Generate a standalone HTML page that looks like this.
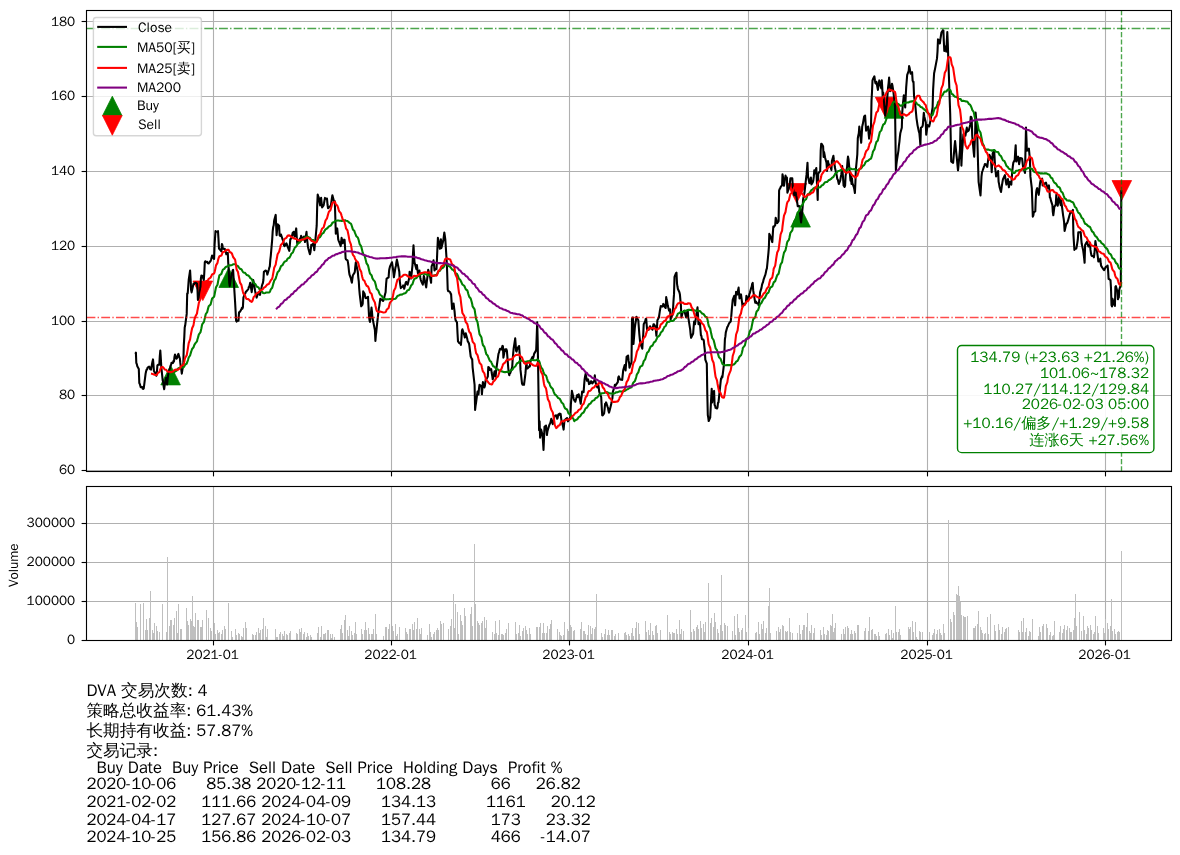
<!DOCTYPE html><html><head><meta charset="utf-8"><title>DVA</title><style>html,body{margin:0;padding:0;background:#fff}svg{display:block}text{font-family:"WenQuanYi Zen Hei","Liberation Sans",sans-serif;fill:#000}</style></head><body>
<svg width="1180" height="855" viewBox="0 0 1180 855">
<rect width="1180" height="855" fill="#fff"/>
<g stroke="#b0b0b0" stroke-width="1.11" fill="none">
<line x1="213.5" y1="10.5" x2="213.5" y2="471.5"/>
<line x1="213.5" y1="486.5" x2="213.5" y2="640.5"/>
<line x1="391.5" y1="10.5" x2="391.5" y2="471.5"/>
<line x1="391.5" y1="486.5" x2="391.5" y2="640.5"/>
<line x1="569.5" y1="10.5" x2="569.5" y2="471.5"/>
<line x1="569.5" y1="486.5" x2="569.5" y2="640.5"/>
<line x1="748.5" y1="10.5" x2="748.5" y2="471.5"/>
<line x1="748.5" y1="486.5" x2="748.5" y2="640.5"/>
<line x1="927.5" y1="10.5" x2="927.5" y2="471.5"/>
<line x1="927.5" y1="486.5" x2="927.5" y2="640.5"/>
<line x1="1105.5" y1="10.5" x2="1105.5" y2="471.5"/>
<line x1="1105.5" y1="486.5" x2="1105.5" y2="640.5"/>
<line x1="86.5" y1="470.5" x2="1171.5" y2="470.5"/>
<line x1="86.5" y1="395.5" x2="1171.5" y2="395.5"/>
<line x1="86.5" y1="321.5" x2="1171.5" y2="321.5"/>
<line x1="86.5" y1="246.5" x2="1171.5" y2="246.5"/>
<line x1="86.5" y1="171.5" x2="1171.5" y2="171.5"/>
<line x1="86.5" y1="96.5" x2="1171.5" y2="96.5"/>
<line x1="86.5" y1="21.5" x2="1171.5" y2="21.5"/>
<line x1="86.5" y1="640.5" x2="1171.5" y2="640.5"/>
<line x1="86.5" y1="601.5" x2="1171.5" y2="601.5"/>
<line x1="86.5" y1="562.5" x2="1171.5" y2="562.5"/>
<line x1="86.5" y1="523.5" x2="1171.5" y2="523.5"/>
</g>
<g clip-path="url(#ctop)">
<defs><clipPath id="ctop"><rect x="86.5" y="10.5" width="1085.0" height="461.0"/></clipPath></defs>
<polygon points="170.6,365.3 160.8,384.9 180.4,384.9" fill="#008000" stroke="#008000" stroke-width="0.75" stroke-linejoin="miter"/>
<polygon points="228.7,267.9 218.9,287.5 238.5,287.5" fill="#008000" stroke="#008000" stroke-width="0.75" stroke-linejoin="miter"/>
<polygon points="800.6,207.5 790.8,227.1 810.4,227.1" fill="#008000" stroke="#008000" stroke-width="0.75" stroke-linejoin="miter"/>
<polygon points="894.0,98.7 884.2,118.3 903.8,118.3" fill="#008000" stroke="#008000" stroke-width="0.75" stroke-linejoin="miter"/>
<polygon points="202.8,300.6 193.0,281.0 212.6,281.0" fill="#ff0000" stroke="#ff0000" stroke-width="0.75" stroke-linejoin="miter"/>
<polygon points="796.7,203.1 786.9,183.5 806.5,183.5" fill="#ff0000" stroke="#ff0000" stroke-width="0.75" stroke-linejoin="miter"/>
<polygon points="885.2,116.9 875.4,97.3 895.0,97.3" fill="#ff0000" stroke="#ff0000" stroke-width="0.75" stroke-linejoin="miter"/>
<polygon points="1121.8,200.1 1112.0,180.5 1131.6,180.5" fill="#ff0000" stroke="#ff0000" stroke-width="0.75" stroke-linejoin="miter"/>
<g fill="none" stroke-width="2.08" stroke-linejoin="round" stroke-linecap="butt">
<polyline stroke="#000" points="135.4,353.8 135.9,352.6 136.3,362.8 136.8,364.1 137.3,366.2 138.8,368.9 139.3,383.1 139.8,384.0 140.3,385.8 140.7,387.2 142.2,387.0 142.7,388.7 143.2,388.9 143.7,388.5 144.2,384.9 145.6,373.6 146.1,371.2 146.6,369.6 147.1,369.6 147.6,367.6 149.1,366.6 149.5,367.2 150.0,369.1 150.5,369.0 151.0,369.6 152.5,361.4 153.0,359.4 153.5,365.0 153.9,370.9 154.4,371.7 156.4,375.7 156.9,372.0 157.4,365.5 157.9,364.9 159.3,364.8 159.8,356.0 160.3,350.6 160.8,358.0 161.3,366.8 162.7,380.4 163.2,382.2 163.7,386.7 164.2,389.2 164.7,385.1 166.2,377.7 166.7,380.7 167.1,384.5 167.6,379.7 168.1,375.0 169.6,369.1 170.1,368.1 170.6,365.5 171.1,364.9 171.5,362.8 173.0,363.0 173.5,360.9 174.0,361.4 174.5,356.7 175.0,354.6 176.4,358.7 176.9,358.2 177.4,357.3 177.9,355.0 178.4,353.9 179.9,358.7 180.3,362.9 180.8,366.8 181.3,369.5 181.8,373.6 183.3,364.1 183.8,345.1 184.3,336.9 184.7,327.5 185.2,325.3 186.7,313.9 187.2,293.6 187.7,293.5 188.2,286.9 188.7,280.0 190.1,270.5 190.6,279.3 191.1,290.1 191.6,292.4 192.1,290.1 193.5,283.7 194.0,284.2 194.5,283.1 195.5,282.7 197.0,283.7 197.4,287.7 197.9,300.0 198.4,298.8 198.9,298.3 200.4,287.7 200.9,278.4 201.4,275.5 201.8,276.2 202.3,275.9 203.8,280.0 204.3,272.7 204.8,262.3 205.3,261.3 205.8,262.0 207.2,261.7 207.7,263.1 208.2,262.9 208.7,263.4 210.6,261.0 211.1,259.6 211.6,257.6 212.1,255.6 214.1,258.9 214.6,244.7 215.0,238.4 215.5,231.1 216.0,231.5 217.5,231.7 218.0,231.1 218.5,239.4 219.0,248.8 219.4,248.8 221.4,251.5 221.9,244.0 222.4,245.2 222.9,248.8 224.3,249.0 224.8,248.8 225.3,250.8 225.8,251.9 226.3,254.2 227.8,252.8 228.2,262.3 228.7,269.1 229.2,282.7 229.7,286.1 231.2,276.1 231.7,273.2 232.2,272.7 232.6,270.6 233.1,269.8 235.1,302.3 235.6,311.2 236.1,320.7 236.6,321.6 238.0,320.2 238.5,320.7 239.0,312.6 239.5,311.8 240.0,311.8 241.4,309.2 241.9,307.9 242.4,308.6 242.9,307.1 243.4,297.6 244.9,293.6 245.4,293.2 245.8,291.7 246.3,291.5 246.8,290.9 248.3,289.1 248.8,287.0 249.3,286.8 249.8,284.6 250.2,282.7 251.7,292.2 252.2,288.1 252.7,283.0 253.2,280.0 253.7,282.0 255.1,290.9 255.6,293.5 256.1,295.1 256.6,297.6 258.5,292.2 259.0,293.0 259.5,292.9 260.0,294.9 260.5,292.4 262.0,285.4 262.5,284.0 262.9,283.0 263.4,280.0 263.9,271.8 265.4,270.7 265.9,270.5 266.4,271.2 266.9,272.5 267.3,274.6 268.8,269.8 269.3,267.7 269.8,266.4 270.3,259.9 270.8,255.6 272.2,239.3 272.7,231.1 273.2,227.0 273.7,225.3 274.2,220.3 275.7,214.9 276.1,224.7 276.6,235.2 277.1,229.9 277.6,224.3 279.1,225.7 279.6,235.2 280.1,235.9 280.5,235.6 281.0,234.5 282.5,239.3 283.0,240.4 283.5,242.0 284.0,245.4 284.5,246.1 286.4,243.3 286.9,244.5 287.4,246.2 287.9,247.4 289.3,250.8 289.8,245.3 290.3,239.3 290.8,238.6 291.3,238.6 292.8,232.5 293.3,233.3 293.7,231.8 294.2,235.4 294.7,236.6 296.2,228.4 296.7,236.3 297.2,243.3 297.7,243.4 298.1,242.0 299.6,239.3 300.1,238.4 300.6,239.0 301.1,235.9 301.6,236.8 303.5,239.3 304.0,236.6 304.5,238.4 305.0,242.0 306.5,231.8 306.9,237.6 307.4,242.0 307.9,246.2 308.4,248.8 309.9,254.2 310.4,252.5 310.9,248.6 311.3,244.7 311.8,245.6 313.3,243.3 313.8,246.3 314.3,250.1 314.8,245.4 315.2,242.0 316.7,225.7 317.2,205.4 317.7,194.5 318.2,196.3 318.7,197.2 320.1,205.4 320.6,201.5 321.1,197.9 321.6,202.9 322.1,207.4 323.6,205.4 324.0,203.4 324.5,200.5 325.0,197.9 325.5,198.8 327.0,198.6 327.5,204.5 328.0,208.1 328.4,208.1 328.9,207.3 330.4,206.0 330.9,205.4 331.4,202.0 331.9,198.1 332.4,195.2 334.3,202.6 334.8,201.3 335.3,217.0 335.8,233.8 337.2,228.4 337.7,233.7 338.2,239.3 338.7,240.8 339.2,242.0 340.7,246.1 341.2,241.1 341.6,237.9 342.1,239.9 342.6,243.3 344.1,239.7 344.6,240.0 345.1,248.3 345.6,258.3 346.0,259.4 347.5,260.3 348.0,262.6 348.5,266.4 349.0,271.5 349.5,274.6 350.9,278.4 351.4,281.0 351.9,282.7 352.4,278.5 352.9,275.2 354.4,272.9 354.8,271.8 355.3,266.5 355.8,262.3 356.3,264.6 357.8,271.8 358.3,277.6 358.8,281.7 359.2,288.5 359.7,294.1 361.2,306.3 361.7,305.6 362.2,305.1 362.7,303.6 363.2,291.4 364.6,293.8 365.1,296.6 365.6,298.1 366.1,297.9 366.6,298.1 368.0,296.8 368.5,306.3 369.0,315.8 369.5,320.2 370.0,321.9 371.5,307.6 372.0,312.2 372.4,317.1 373.4,322.6 374.9,330.0 375.4,340.9 375.9,334.6 376.3,332.0 376.8,326.6 378.3,313.1 378.8,308.4 379.3,306.1 379.8,302.2 380.3,298.8 381.7,299.8 382.2,299.5 382.7,300.8 383.2,300.9 383.7,299.8 385.1,294.1 385.6,292.2 386.1,284.0 386.6,278.6 388.6,277.3 389.1,270.5 389.5,268.4 390.0,266.4 392.0,262.3 392.5,265.6 393.0,269.1 393.5,273.0 393.9,277.3 395.4,267.8 395.9,266.0 396.4,262.1 396.9,259.6 397.4,262.0 399.3,271.8 399.8,281.3 400.3,285.1 400.8,288.1 402.3,286.7 402.7,286.8 403.2,285.4 403.7,286.2 404.2,288.8 405.7,282.7 406.2,281.9 406.7,283.8 407.1,283.3 407.6,284.7 409.1,278.6 409.6,271.8 410.1,273.7 410.6,276.0 411.1,278.6 412.5,265.1 413.0,253.3 413.5,245.4 414.0,253.9 414.5,262.3 416.4,269.1 416.9,265.1 417.4,269.2 417.9,273.2 419.4,270.5 419.9,274.2 420.3,277.7 420.8,280.0 421.3,281.3 422.8,284.7 423.3,281.6 423.8,275.9 424.3,277.8 424.7,280.0 426.2,287.4 426.7,282.6 427.2,278.6 427.7,275.0 428.2,269.8 429.6,274.6 430.1,276.9 430.6,280.2 431.1,282.7 431.6,266.4 433.1,262.7 433.5,260.3 434.0,264.1 434.5,270.5 435.0,269.6 436.5,269.1 437.0,258.3 437.4,248.8 437.9,237.9 438.4,240.3 439.9,248.8 440.4,244.8 440.9,239.3 441.4,248.1 443.3,240.6 443.8,236.7 444.3,232.5 444.8,235.6 445.3,239.3 446.7,261.0 447.2,273.2 447.7,289.5 448.2,291.3 448.7,291.0 450.2,292.2 450.6,293.7 451.1,294.1 451.6,301.9 452.1,309.0 453.6,303.6 454.1,307.8 454.6,311.7 455.0,316.5 455.5,319.9 457.0,322.6 457.5,333.0 458.0,341.6 458.5,341.8 459.0,342.9 460.4,343.4 460.9,345.0 461.4,339.1 461.9,330.7 462.4,329.3 464.3,335.1 464.8,337.5 465.3,336.5 465.8,333.4 467.3,339.1 467.8,341.6 468.2,341.9 468.7,342.8 469.2,344.3 470.7,356.5 471.2,357.6 471.7,358.7 472.2,359.2 472.6,367.3 474.6,385.0 475.1,409.9 475.6,405.5 476.1,402.4 477.5,391.6 478.0,393.4 478.5,394.3 479.0,388.3 479.5,384.8 481.4,386.1 481.9,394.3 482.4,388.3 482.9,382.1 484.4,387.5 484.9,386.0 485.4,381.8 485.8,379.3 486.3,379.6 487.8,376.6 488.3,367.1 488.8,368.7 489.3,367.6 489.8,369.9 491.2,369.2 491.7,372.8 492.2,375.7 492.7,379.3 493.2,377.9 494.6,371.2 495.1,374.5 495.6,376.6 496.1,371.4 496.6,367.1 498.1,356.3 498.5,353.6 499.0,352.6 499.5,350.3 500.0,348.8 501.5,349.5 502.0,347.6 502.5,345.9 502.9,346.1 503.4,357.6 504.9,349.5 505.4,349.3 505.9,350.9 506.4,349.3 506.9,350.9 508.3,368.5 508.8,373.4 509.3,375.3 509.8,373.2 510.3,373.0 512.2,367.1 512.7,359.0 513.2,353.3 513.7,348.1 515.2,338.4 515.7,344.9 516.1,350.9 516.6,351.6 517.1,349.5 518.6,346.6 519.1,346.1 519.6,353.1 520.1,360.4 520.5,369.9 522.0,383.4 522.5,384.7 523.0,384.0 523.5,383.7 524.0,384.8 525.4,373.9 525.9,367.8 526.4,363.1 526.9,366.2 527.4,368.5 528.9,367.0 529.3,366.2 529.8,366.5 530.3,362.8 530.8,360.4 532.3,357.2 532.8,358.3 533.3,357.6 533.7,355.7 534.2,353.6 535.7,351.1 536.2,349.5 536.7,336.3 537.2,322.4 537.7,341.4 539.1,430.2 539.6,421.4 540.1,437.7 540.6,434.6 541.1,429.6 542.5,435.0 543.0,441.7 543.5,449.9 544.0,438.7 544.5,426.8 546.0,425.5 546.5,430.5 546.9,435.0 547.4,431.6 547.9,429.6 549.4,424.7 549.9,423.8 550.4,422.8 551.3,418.7 552.8,424.1 553.3,422.0 553.8,419.9 554.3,417.3 554.8,415.9 556.2,415.3 556.7,416.1 557.2,418.7 557.7,417.7 558.2,414.6 559.6,413.7 560.1,415.3 560.6,413.9 561.1,417.8 561.6,421.4 563.1,426.8 563.6,429.6 564.0,425.5 564.5,420.1 565.0,419.7 567.0,418.0 567.5,420.2 568.0,421.4 568.4,420.6 570.4,417.3 570.9,403.8 571.4,398.2 571.9,390.9 573.3,397.0 573.8,399.1 574.3,400.5 574.8,400.7 575.3,401.7 577.2,395.0 577.7,396.0 578.2,397.0 578.7,394.3 580.2,401.1 580.7,403.8 581.2,399.0 581.6,396.5 582.1,391.6 583.6,392.2 584.1,385.3 584.6,379.3 585.1,376.2 585.6,373.9 587.0,380.7 587.5,379.9 588.0,379.3 588.5,381.3 589.0,384.1 590.4,383.2 590.9,381.4 591.4,381.4 591.9,382.6 592.4,383.4 594.4,380.7 594.8,375.3 595.3,379.9 595.8,383.4 597.3,387.5 597.8,386.8 598.3,384.8 598.8,387.9 599.2,391.6 600.7,396.0 601.2,397.0 601.7,406.8 602.2,415.3 602.7,415.4 604.1,413.3 604.6,409.1 605.1,403.8 605.6,403.9 606.1,402.4 607.6,406.8 608.0,407.8 608.5,411.0 609.0,412.6 609.5,411.0 611.0,405.1 611.5,402.8 612.0,399.7 612.4,398.2 612.9,391.6 614.4,387.0 614.9,384.8 615.4,385.9 615.9,384.8 617.8,382.1 618.3,377.3 618.8,376.4 619.3,377.9 619.8,379.3 621.2,379.8 621.7,379.8 622.2,379.9 622.7,375.1 623.2,370.4 624.7,365.0 625.1,368.0 625.6,370.4 626.1,363.3 626.6,356.8 628.1,355.5 628.6,360.7 629.1,363.2 629.5,367.7 630.0,365.8 631.5,362.3 632.0,318.8 632.5,317.6 633.0,317.5 633.5,343.9 634.9,327.0 635.4,323.5 635.9,320.8 636.4,316.8 636.9,317.8 638.3,320.2 638.8,327.0 639.3,333.8 639.8,338.9 640.3,343.3 642.3,348.7 642.7,341.9 643.2,335.1 643.7,324.3 645.2,321.3 645.7,318.9 646.2,318.8 646.7,325.2 647.1,329.7 648.6,329.8 649.1,328.3 649.6,327.7 650.1,326.2 650.6,327.0 652.5,329.7 653.0,326.6 653.5,324.3 654.0,324.2 655.5,327.0 655.9,330.6 656.4,335.8 656.9,328.4 657.4,320.2 658.9,317.5 659.9,310.7 660.3,308.4 660.8,306.0 662.3,306.6 662.8,306.1 663.3,303.9 663.8,304.6 664.3,306.6 665.7,308.0 666.2,297.1 666.7,300.1 667.2,301.8 667.7,305.3 669.1,310.7 669.6,309.4 670.1,309.3 670.6,319.5 671.1,317.6 672.6,314.8 673.1,308.2 673.5,300.8 674.0,294.4 674.5,276.8 676.0,273.1 676.5,272.7 677.0,283.6 677.5,286.8 677.9,289.0 679.4,292.2 679.9,294.4 680.4,300.2 680.9,305.3 681.4,317.5 682.8,312.1 683.3,312.1 683.8,311.3 684.3,310.7 684.8,312.6 686.2,317.5 686.7,314.9 687.2,311.9 687.7,310.0 688.2,316.8 690.2,329.7 690.6,334.0 691.1,337.8 691.6,336.7 693.1,333.8 693.6,327.5 694.1,321.6 694.6,322.9 695.0,324.3 696.5,313.4 697.0,310.6 697.5,307.3 698.0,315.0 698.5,324.3 699.9,322.9 700.4,328.8 700.9,335.1 701.4,335.9 701.9,339.2 703.4,339.6 703.8,340.6 704.3,345.8 704.8,350.1 705.3,359.6 706.8,363.6 707.3,393.9 707.8,415.1 708.2,417.2 708.7,421.0 710.2,417.6 710.7,407.5 711.2,397.8 711.7,388.8 712.2,402.4 713.6,391.4 714.1,390.9 714.6,404.9 715.1,405.7 715.6,407.9 717.0,408.5 717.5,407.5 718.0,402.8 718.5,402.4 719.0,397.3 720.5,383.2 721.0,378.5 721.4,378.8 721.9,376.4 722.4,377.2 723.9,365.0 724.4,351.4 724.9,339.2 725.4,336.4 725.8,332.4 727.3,327.0 727.8,326.5 728.3,325.1 729.3,322.9 730.7,321.6 731.2,317.0 731.7,310.7 732.2,305.3 732.7,299.9 734.2,295.8 734.6,299.8 735.1,305.3 735.6,298.6 736.1,291.7 737.6,294.4 738.1,289.9 738.6,287.6 739.0,292.6 739.5,298.5 741.0,294.4 741.5,298.3 742.0,301.9 742.5,306.6 742.9,303.9 744.9,303.7 745.4,303.2 745.9,302.6 746.4,295.8 748.3,299.7 748.8,298.5 749.3,294.3 749.8,293.1 751.3,287.6 751.7,286.6 752.2,283.8 752.7,282.9 753.2,290.4 755.2,302.6 755.7,302.2 756.1,301.6 756.6,303.1 758.1,303.2 758.6,305.3 759.1,301.6 759.6,297.7 760.1,292.4 761.5,287.9 762.0,284.9 762.5,283.3 763.0,282.3 763.5,279.9 764.9,275.8 765.4,274.6 765.9,272.2 766.4,269.7 766.9,268.5 768.4,253.2 768.9,246.8 769.3,233.9 769.8,234.8 770.3,236.0 772.3,242.1 772.8,233.9 773.3,226.5 773.7,227.2 775.2,225.1 775.7,217.7 776.2,219.5 776.7,221.8 777.2,223.1 778.6,221.1 779.1,190.5 779.6,189.2 780.1,188.5 780.6,187.1 782.1,185.1 782.5,174.2 783.0,177.0 783.5,183.1 784.0,185.8 785.5,175.6 786.0,177.4 786.5,177.6 786.9,177.6 787.4,192.6 788.9,187.9 789.4,186.5 789.9,182.6 790.4,178.3 792.3,178.3 792.8,187.1 793.3,188.8 793.8,192.6 794.3,195.3 795.7,192.6 796.2,196.0 796.7,198.0 797.2,202.3 797.7,206.1 799.2,206.0 799.7,207.5 800.1,214.3 800.6,219.0 801.1,222.4 802.6,207.5 803.1,199.3 803.6,197.3 804.0,194.8 804.5,192.6 806.0,179.0 806.5,174.9 807.0,169.1 807.5,162.7 808.0,176.3 809.4,183.1 809.9,182.0 810.4,180.3 810.9,177.6 811.4,184.4 812.8,182.1 813.3,180.4 813.8,176.7 814.3,170.2 814.8,173.6 816.3,168.1 816.8,179.9 817.2,188.5 817.7,200.0 818.2,173.6 820.2,170.9 820.7,150.5 821.2,143.9 821.6,143.9 823.1,146.4 823.6,157.0 824.1,152.1 824.6,154.9 825.1,157.8 826.5,162.7 827.0,170.9 827.5,166.4 828.0,161.1 828.5,163.6 830.0,166.2 830.4,166.0 831.4,170.1 831.9,161.1 833.4,155.8 833.9,159.9 834.4,162.7 834.8,167.0 835.3,169.3 836.8,175.8 837.3,179.1 837.8,179.5 838.8,184.0 840.2,180.7 840.7,177.5 841.2,175.0 841.7,171.2 842.2,166.0 843.6,185.6 844.1,186.1 844.6,186.9 845.1,185.6 845.6,175.8 847.1,166.8 847.6,159.9 848.0,156.6 848.5,159.1 849.0,164.4 850.5,180.7 851.0,176.6 851.5,184.0 852.0,178.3 852.4,183.2 853.9,187.3 854.4,189.8 854.9,193.0 855.4,182.4 855.9,169.3 857.3,154.5 857.8,138.2 858.3,135.5 858.8,133.3 859.3,126.5 860.8,139.5 861.2,142.8 861.7,134.7 862.2,126.5 862.7,124.6 864.2,116.3 864.7,116.0 865.1,115.6 865.6,123.3 866.1,130.6 868.1,126.5 868.6,133.5 869.1,138.7 869.5,136.1 871.0,126.5 871.5,100.7 872.0,92.0 872.5,80.4 873.0,79.0 874.4,76.3 874.9,80.2 875.4,83.1 875.9,83.7 876.4,81.7 877.9,89.9 878.3,87.2 878.8,83.2 879.3,80.4 879.8,82.6 881.3,88.5 881.8,80.4 882.3,88.5 882.7,96.6 883.2,92.6 884.7,110.4 885.2,115.6 885.7,112.1 886.2,107.9 886.7,104.8 888.1,87.1 888.6,83.1 889.1,77.6 889.6,83.8 890.1,91.2 891.5,87.1 892.0,83.7 892.5,85.8 893.0,89.2 893.5,92.6 895.0,106.1 895.5,141.4 895.9,170.6 896.4,164.4 896.9,160.4 898.4,150.8 898.9,145.5 899.4,141.8 899.9,136.7 900.3,133.3 901.8,127.8 902.3,111.6 902.8,104.8 903.3,100.4 903.8,95.3 905.2,107.5 905.7,96.5 906.2,87.1 906.7,80.8 907.2,74.9 908.7,70.9 909.1,66.1 909.6,67.7 910.6,73.6 912.1,72.2 912.6,80.4 913.1,81.8 913.5,81.7 914.0,95.3 915.5,107.5 916.0,113.0 916.5,118.3 917.0,121.6 917.5,125.1 918.9,131.7 919.4,133.3 919.9,138.8 920.4,145.5 920.9,127.8 922.3,126.7 922.8,125.1 923.8,112.9 924.3,116.5 925.8,122.4 926.2,134.6 927.2,127.8 927.7,125.1 929.2,126.5 929.7,124.3 930.2,121.7 931.1,117.0 932.6,107.5 933.1,89.9 933.6,81.3 934.1,73.3 934.6,71.1 936.5,61.1 937.0,58.4 937.5,51.6 938.0,39.4 939.4,40.7 939.9,43.5 940.4,39.1 940.9,36.0 941.4,32.6 942.9,30.2 943.4,30.6 943.8,40.8 944.3,51.0 944.8,46.2 946.3,51.6 946.8,41.6 947.3,32.0 947.8,43.6 948.2,55.7 950.2,114.0 950.7,136.7 951.2,161.5 951.7,161.9 953.1,162.8 953.6,157.3 954.1,151.6 954.6,145.7 955.1,141.1 956.6,156.1 957.0,160.0 957.5,165.4 958.0,170.3 958.5,165.7 960.0,149.3 960.5,127.6 961.0,145.8 961.4,165.6 961.9,154.7 963.4,134.3 963.9,136.6 964.4,135.7 964.9,134.0 965.4,135.7 966.8,127.6 967.3,131.6 967.8,131.1 968.3,131.0 968.8,130.3 970.2,124.9 970.7,116.7 971.2,116.9 971.7,118.1 972.2,135.7 973.7,152.5 974.2,156.7 974.6,145.3 975.1,134.3 975.6,112.6 977.1,130.3 977.6,147.8 978.1,165.6 978.6,181.8 980.5,195.4 981.0,186.3 981.5,176.4 982.0,172.3 982.5,171.0 983.9,166.8 984.4,165.6 984.9,164.0 985.4,164.2 985.9,164.2 987.3,166.9 987.8,162.5 988.3,158.8 988.8,157.3 989.3,154.7 990.8,157.4 991.3,165.0 991.7,172.3 992.2,162.5 992.7,153.3 994.2,150.6 994.7,160.0 995.2,168.3 995.7,172.3 996.1,176.4 998.1,171.0 998.6,181.8 999.1,184.1 999.6,187.3 1001.0,192.0 1001.5,188.7 1002.0,184.9 1002.5,181.8 1003.0,179.1 1004.5,175.9 1004.9,175.1 1005.4,178.3 1005.9,181.9 1006.4,184.6 1007.9,179.1 1008.4,182.9 1008.9,187.3 1009.8,181.8 1011.3,184.6 1011.8,177.2 1012.3,171.0 1012.8,166.3 1013.3,162.8 1014.7,160.1 1015.2,151.4 1015.7,145.2 1016.2,161.5 1018.1,156.7 1018.6,160.9 1019.1,164.2 1019.6,161.6 1020.1,158.1 1021.6,158.3 1022.1,158.8 1022.5,162.0 1023.0,166.3 1023.5,168.3 1025.0,173.0 1025.5,149.3 1026.0,127.6 1026.5,139.9 1026.9,150.6 1028.4,149.6 1028.9,148.6 1029.4,154.2 1029.9,158.8 1030.4,176.4 1031.8,188.1 1032.3,201.5 1032.8,216.6 1033.3,215.6 1033.8,212.6 1035.3,211.2 1035.7,199.6 1036.2,192.2 1036.7,189.3 1037.2,188.1 1038.7,194.9 1039.2,191.1 1039.7,186.1 1040.1,182.7 1040.6,180.5 1042.1,178.6 1042.6,185.4 1043.1,183.7 1043.6,183.2 1044.1,184.1 1046.0,182.7 1046.5,184.5 1047.0,187.2 1047.5,188.1 1048.9,185.4 1049.4,189.8 1049.9,197.6 1050.4,197.9 1050.9,200.4 1052.4,205.1 1052.8,211.9 1053.3,215.3 1053.8,211.3 1054.3,207.1 1055.8,204.4 1056.3,194.9 1056.8,199.6 1057.2,200.6 1057.7,205.8 1059.2,196.3 1059.7,199.4 1060.2,202.6 1060.7,205.1 1061.2,200.4 1062.6,211.3 1063.1,215.3 1063.6,218.4 1064.1,222.1 1064.6,230.9 1066.0,224.9 1066.5,223.4 1067.0,223.3 1067.5,222.2 1068.0,220.7 1069.5,215.3 1070.0,213.7 1070.4,212.6 1070.9,212.2 1071.4,212.6 1072.9,209.9 1073.4,234.3 1073.9,242.2 1074.4,249.9 1074.8,249.1 1076.3,248.5 1076.8,246.1 1077.3,242.8 1077.8,239.7 1078.3,232.2 1079.7,232.3 1080.2,232.5 1080.7,232.2 1081.2,238.7 1081.7,243.8 1083.2,250.6 1083.6,253.7 1084.1,257.7 1084.6,262.8 1085.1,245.1 1086.6,242.3 1087.1,241.7 1087.6,244.2 1088.5,246.5 1090.0,243.8 1090.5,249.9 1091.0,253.3 1091.5,255.5 1092.0,256.0 1093.4,256.1 1093.9,257.3 1094.4,253.5 1094.9,247.8 1095.4,241.1 1096.8,250.4 1097.3,253.3 1097.8,256.6 1098.3,261.4 1098.8,261.4 1100.3,258.7 1100.8,264.1 1101.2,265.9 1102.2,267.5 1103.7,269.8 1104.2,270.2 1104.7,269.0 1105.6,267.2 1107.1,266.1 1107.6,265.6 1108.1,270.5 1108.6,279.0 1109.1,278.9 1110.5,280.3 1111.0,288.2 1111.5,305.2 1112.0,306.5 1112.5,298.7 1114.4,305.2 1114.9,305.9 1115.4,286.9 1115.9,286.2 1117.4,291.5 1117.9,299.3 1118.3,298.1 1118.8,297.4 1119.3,289.5 1120.8,284.9 1121.3,190.2"/>
<polyline stroke="#008000" points="169.6,372.6 170.1,372.9 170.6,373.2 171.1,373.2 171.5,373.2 173.0,373.1 173.5,373.0 174.0,372.5 174.5,372.0 175.0,371.4 176.4,370.8 176.9,370.2 177.4,369.6 177.9,368.9 178.4,368.2 179.9,367.7 180.3,367.5 180.8,367.4 181.3,367.4 181.8,367.5 183.3,367.4 183.8,367.0 184.3,366.4 184.7,365.6 185.2,364.7 186.7,363.6 187.2,362.2 187.7,360.9 188.2,359.3 188.7,357.5 190.1,355.5 190.6,353.6 191.1,351.9 191.6,350.5 192.1,349.0 193.5,347.3 194.0,345.9 194.5,344.6 195.5,343.1 197.0,341.4 197.4,339.5 197.9,337.9 198.4,336.1 198.9,334.3 200.4,332.4 200.9,330.4 201.4,328.3 201.8,326.1 202.3,324.1 203.8,322.2 204.3,320.3 204.8,318.2 205.3,316.1 205.8,314.0 207.2,312.1 207.7,310.1 208.2,308.1 208.7,306.2 210.6,304.4 211.1,302.5 211.6,300.5 212.1,298.5 214.1,296.7 214.6,294.5 215.0,292.3 215.5,289.8 216.0,287.2 217.5,284.7 218.0,282.0 218.5,279.4 219.0,277.2 219.4,275.3 221.4,273.9 221.9,272.3 222.4,270.8 222.9,269.6 224.3,268.9 224.8,268.1 225.3,267.4 225.8,266.9 226.3,266.7 227.8,266.3 228.2,265.8 228.7,265.4 229.2,265.3 229.7,265.4 231.2,265.3 231.7,265.1 232.2,264.9 232.6,264.6 233.1,264.2 235.1,264.2 235.6,264.4 236.1,264.8 236.6,265.4 238.0,266.1 238.5,266.9 239.0,267.6 239.5,268.2 240.0,268.8 241.4,269.3 241.9,270.1 242.4,271.0 242.9,271.8 243.4,272.4 244.9,272.8 245.4,273.3 245.8,273.8 246.3,274.4 246.8,274.9 248.3,275.4 248.8,275.9 249.3,276.4 249.8,277.2 250.2,278.0 251.7,279.1 252.2,280.2 252.7,281.2 253.2,282.2 253.7,283.0 255.1,283.8 255.6,284.6 256.1,285.5 256.6,286.5 258.5,287.4 259.0,288.3 259.5,289.2 260.0,290.1 260.5,290.9 262.0,291.6 262.5,292.2 262.9,292.8 263.4,293.1 263.9,293.2 265.4,292.9 265.9,292.6 266.4,292.5 266.9,292.5 267.3,292.5 268.8,292.5 269.3,292.5 269.8,291.8 270.3,290.7 270.8,289.4 272.2,287.8 272.7,286.0 273.2,284.1 273.7,282.4 274.2,280.5 275.7,278.6 276.1,276.9 276.6,275.5 277.1,273.9 277.6,272.2 279.1,270.8 279.6,269.6 280.1,268.5 280.5,267.4 281.0,266.2 282.5,265.2 283.0,264.2 283.5,263.3 284.0,262.5 284.5,261.7 286.4,260.9 286.9,260.0 287.4,259.1 287.9,258.4 289.3,257.8 289.8,257.1 290.3,256.1 290.8,255.0 291.3,253.8 292.8,252.5 293.3,251.4 293.7,250.1 294.2,249.0 294.7,247.8 296.2,246.5 296.7,245.6 297.2,244.7 297.7,244.0 298.1,243.2 299.6,242.5 300.1,241.9 300.6,241.3 301.1,240.6 301.6,239.8 303.5,239.1 304.0,238.5 304.5,237.9 305.0,237.4 306.5,236.8 306.9,236.5 307.4,236.5 307.9,236.8 308.4,237.3 309.9,237.8 310.4,238.5 310.9,239.2 311.3,239.6 311.8,239.8 313.3,240.0 313.8,240.5 314.3,241.0 314.8,241.2 315.2,241.3 316.7,241.1 317.2,240.5 317.7,239.6 318.2,238.7 318.7,237.8 320.1,237.0 320.6,236.2 321.1,235.2 321.6,234.4 322.1,233.6 323.6,232.8 324.0,231.8 324.5,230.9 325.0,230.1 325.5,229.3 327.0,228.5 327.5,228.0 328.0,227.5 328.4,227.0 328.9,226.4 330.4,225.8 330.9,225.4 331.4,224.7 331.9,223.8 332.4,222.8 334.3,222.0 334.8,221.3 335.3,220.8 335.8,220.7 337.2,220.6 337.7,220.5 338.2,220.5 338.7,220.6 339.2,220.7 340.7,220.7 341.2,220.9 341.6,220.9 342.1,220.9 342.6,220.8 344.1,220.7 344.6,220.4 345.1,220.3 345.6,220.5 346.0,220.8 347.5,221.1 348.0,221.5 348.5,221.9 349.0,222.3 349.5,222.9 350.9,223.6 351.4,224.7 351.9,226.3 352.4,227.9 352.9,229.5 354.4,231.0 354.8,232.4 355.3,233.7 355.8,234.9 356.3,236.2 357.8,237.5 358.3,238.9 358.8,240.5 359.2,242.2 359.7,244.2 361.2,246.3 361.7,248.5 362.2,250.5 362.7,252.4 363.2,254.0 364.6,255.8 365.1,257.6 365.6,259.4 366.1,261.4 366.6,263.4 368.0,265.4 368.5,267.5 369.0,269.7 369.5,271.8 370.0,273.6 371.5,275.2 372.0,276.7 372.4,278.3 373.4,279.9 374.9,281.7 375.4,283.6 375.9,285.4 376.3,287.3 376.8,289.1 378.3,290.5 378.8,291.8 379.3,293.2 379.8,294.2 380.3,295.0 381.7,295.9 382.2,296.6 382.7,297.4 383.2,298.1 383.7,298.7 385.1,299.0 385.6,299.3 386.1,299.4 386.6,299.3 388.6,299.3 389.1,299.2 389.5,299.1 390.0,299.0 392.0,298.9 392.5,299.0 393.0,299.1 393.5,299.1 393.9,299.1 395.4,298.8 395.9,298.3 396.4,297.7 396.9,296.8 397.4,295.9 399.3,295.2 399.8,294.8 400.3,294.7 400.8,294.6 402.3,294.4 402.7,294.1 403.2,293.9 403.7,293.6 404.2,293.5 405.7,293.0 406.2,292.3 406.7,291.6 407.1,290.8 407.6,290.4 409.1,289.7 409.6,288.8 410.1,287.8 410.6,286.7 411.1,285.5 412.5,284.1 413.0,282.5 413.5,280.9 414.0,279.7 414.5,278.8 416.4,278.1 416.9,277.3 417.4,276.7 417.9,276.2 419.4,275.6 419.9,275.1 420.3,274.6 420.8,274.2 421.3,274.0 422.8,273.8 423.3,273.8 423.8,273.7 424.3,273.7 424.7,273.9 426.2,274.3 426.7,274.6 427.2,274.9 427.7,275.1 428.2,275.1 429.6,275.2 430.1,275.2 430.6,275.4 431.1,275.7 431.6,275.8 433.1,275.9 433.5,275.9 434.0,275.7 434.5,275.5 435.0,275.2 436.5,274.8 437.0,274.2 437.4,273.5 437.9,272.5 438.4,271.6 439.9,270.8 440.4,270.0 440.9,269.2 441.4,268.5 443.3,267.6 443.8,266.7 444.3,265.7 444.8,265.0 445.3,264.3 446.7,264.0 447.2,263.9 447.7,264.4 448.2,265.2 448.7,266.1 450.2,266.8 450.6,267.5 451.1,268.0 451.6,268.7 452.1,269.5 453.6,270.1 454.1,270.9 454.6,271.6 455.0,272.4 455.5,273.2 457.0,274.0 457.5,275.0 458.0,276.2 458.5,277.5 459.0,278.8 460.4,280.1 460.9,281.2 461.4,282.3 461.9,283.4 462.4,284.5 464.3,285.8 464.8,287.0 465.3,288.2 465.8,289.3 467.3,290.4 467.8,291.9 468.2,293.5 468.7,295.2 469.2,296.8 470.7,298.5 471.2,300.2 471.7,302.0 472.2,304.0 472.6,306.4 474.6,309.4 475.1,312.8 475.6,315.9 476.1,319.0 477.5,322.1 478.0,325.0 478.5,328.1 479.0,331.1 479.5,334.1 481.4,337.2 481.9,340.3 482.4,342.8 482.9,345.0 484.4,346.9 484.9,348.8 485.4,350.6 485.8,352.4 486.3,354.1 487.8,355.8 488.3,357.1 488.8,358.3 489.3,359.5 489.8,360.8 491.2,361.9 491.7,363.1 492.2,364.2 492.7,365.3 493.2,366.2 494.6,366.8 495.1,367.5 495.6,368.1 496.1,368.7 496.6,369.1 498.1,369.5 498.5,369.9 499.0,370.4 499.5,370.7 500.0,370.9 501.5,371.2 502.0,371.5 502.5,371.6 502.9,371.7 503.4,372.0 504.9,372.1 505.4,372.2 505.9,372.1 506.4,372.0 506.9,371.8 508.3,372.0 508.8,372.1 509.3,371.9 509.8,371.2 510.3,370.5 512.2,369.8 512.7,369.2 513.2,368.4 513.7,367.5 515.2,366.5 515.7,365.7 516.1,365.0 516.6,364.1 517.1,363.3 518.6,362.6 519.1,361.8 519.6,361.1 520.1,360.7 520.5,360.5 522.0,360.6 522.5,360.7 523.0,361.1 523.5,361.4 524.0,361.7 525.4,361.8 525.9,361.8 526.4,361.6 526.9,361.4 527.4,361.2 528.9,361.0 529.3,360.9 529.8,360.7 530.3,360.4 530.8,360.2 532.3,360.0 532.8,360.0 533.3,360.1 533.7,360.2 534.2,360.3 535.7,360.3 536.2,360.3 536.7,360.1 537.2,359.6 537.7,359.5 539.1,361.0 539.6,362.4 540.1,364.2 540.6,365.8 541.1,367.4 542.5,369.1 543.0,370.6 543.5,372.1 544.0,373.4 544.5,374.5 546.0,375.5 546.5,376.8 546.9,378.3 547.4,379.9 547.9,381.5 549.4,383.2 549.9,384.8 550.4,386.2 551.3,387.6 552.8,389.1 553.3,390.6 553.8,392.1 554.3,393.3 554.8,394.4 556.2,395.4 556.7,396.0 557.2,396.7 557.7,397.4 558.2,398.0 559.6,398.6 560.1,399.4 560.6,400.3 561.1,401.4 561.6,402.5 563.1,403.7 563.6,404.9 564.0,406.1 564.5,407.2 565.0,408.3 567.0,409.5 567.5,410.7 568.0,412.0 568.4,413.3 570.4,414.5 570.9,415.5 571.4,416.4 571.9,417.3 573.3,418.5 573.8,420.0 574.3,421.2 574.8,420.6 575.3,420.2 577.2,419.4 577.7,418.6 578.2,417.9 578.7,417.1 580.2,416.3 580.7,415.4 581.2,414.6 581.6,414.0 582.1,413.3 583.6,412.5 584.1,411.6 584.6,410.5 585.1,409.4 585.6,408.4 587.0,407.6 587.5,406.7 588.0,405.9 588.5,405.1 589.0,404.3 590.4,403.6 590.9,402.9 591.4,402.2 591.9,401.5 592.4,400.9 594.4,400.1 594.8,399.2 595.3,398.6 595.8,397.9 597.3,397.4 597.8,396.8 598.3,396.2 598.8,395.5 599.2,394.8 600.7,394.1 601.2,393.6 601.7,393.3 602.2,393.2 602.7,393.2 604.1,393.0 604.6,392.8 605.1,392.4 605.6,392.2 606.1,392.1 607.6,392.3 608.0,392.7 608.5,392.9 609.0,393.2 609.5,393.4 611.0,393.5 611.5,393.5 612.0,393.6 612.4,393.7 612.9,393.6 614.4,393.4 614.9,393.1 615.4,392.7 615.9,392.4 617.8,392.2 618.3,391.9 618.8,391.6 619.3,391.4 619.8,391.4 621.2,391.5 621.7,391.6 622.2,391.6 622.7,391.5 623.2,391.3 624.7,391.0 625.1,390.7 625.6,390.4 626.1,390.0 626.6,389.6 628.1,389.0 628.6,388.6 629.1,388.2 629.5,388.1 630.0,387.8 631.5,387.3 632.0,386.0 632.5,384.6 633.0,383.2 633.5,382.4 634.9,381.1 635.4,379.6 635.9,378.1 636.4,376.3 636.9,374.3 638.3,372.4 638.8,370.7 639.3,369.2 639.8,367.9 640.3,366.7 642.3,365.6 642.7,364.3 643.2,362.9 643.7,361.1 645.2,359.3 645.7,357.5 646.2,355.7 646.7,354.2 647.1,352.8 648.6,351.4 649.1,350.2 649.6,349.0 650.1,347.8 650.6,346.6 652.5,345.5 653.0,344.4 653.5,343.4 654.0,342.3 655.5,341.3 655.9,340.3 656.4,339.5 656.9,338.4 657.4,337.2 658.9,336.1 659.9,334.9 660.3,333.8 660.8,332.5 662.3,331.3 662.8,330.2 663.3,329.1 663.8,328.1 664.3,327.0 665.7,326.0 666.2,324.6 666.7,323.3 667.2,322.1 667.7,321.9 669.1,321.8 669.6,321.7 670.1,321.1 670.6,321.0 671.1,320.9 672.6,320.9 673.1,320.8 673.5,320.5 674.0,320.1 674.5,319.1 676.0,318.1 676.5,316.9 677.0,315.8 677.5,314.6 677.9,313.6 679.4,313.0 679.9,312.5 680.4,312.2 680.9,312.0 681.4,312.0 682.8,312.0 683.3,311.7 683.8,311.4 684.3,311.1 684.8,310.8 686.2,310.8 686.7,310.6 687.2,310.2 687.7,309.9 688.2,309.8 690.2,309.9 690.6,310.0 691.1,310.1 691.6,310.1 693.1,310.1 693.6,310.2 694.1,310.2 694.6,310.4 695.0,310.7 696.5,310.6 697.0,310.6 697.5,310.5 698.0,310.7 698.5,311.0 699.9,311.1 700.4,311.4 700.9,312.1 701.4,312.7 701.9,313.4 703.4,313.9 703.8,314.4 704.3,315.1 704.8,315.8 705.3,316.6 706.8,317.3 707.3,318.9 707.8,321.0 708.2,323.3 708.7,325.8 710.2,328.5 710.7,331.1 711.2,333.6 711.7,335.7 712.2,338.0 713.6,340.0 714.1,341.9 714.6,344.1 715.1,346.2 715.6,348.3 717.0,350.1 717.5,352.0 718.0,353.8 718.5,355.6 719.0,357.3 720.5,358.7 721.0,359.9 721.4,361.2 721.9,362.5 722.4,363.8 723.9,364.8 724.4,365.2 724.9,365.3 725.4,365.3 725.8,365.2 727.3,365.1 727.8,365.1 728.3,365.1 729.3,365.1 730.7,365.1 731.2,365.1 731.7,365.1 732.2,365.1 732.7,364.8 734.2,364.2 734.6,363.8 735.1,363.3 735.6,362.6 736.1,361.7 737.6,360.8 738.1,359.8 738.6,358.7 739.0,357.7 739.5,356.6 741.0,355.3 741.5,354.0 742.0,352.2 742.5,350.0 742.9,347.8 744.9,345.4 745.4,343.1 745.9,341.0 746.4,339.0 748.3,337.2 748.8,335.1 749.3,333.2 749.8,331.2 751.3,328.9 751.7,326.5 752.2,324.0 752.7,321.5 753.2,319.2 755.2,317.2 755.7,315.2 756.1,313.2 756.6,311.6 758.1,310.1 758.6,308.7 759.1,307.2 759.6,305.6 760.1,304.1 761.5,302.9 762.0,301.8 762.5,300.7 763.0,299.7 763.5,298.8 764.9,297.8 765.4,296.7 765.9,295.7 766.4,294.7 766.9,293.7 768.4,292.6 768.9,291.4 769.3,290.1 769.8,288.9 770.3,287.6 772.3,286.3 772.8,285.0 773.3,283.7 773.7,282.4 775.2,281.1 775.7,279.7 776.2,278.2 776.7,276.7 777.2,275.3 778.6,273.7 779.1,271.5 779.6,269.1 780.1,266.8 780.6,264.5 782.1,262.1 782.5,259.6 783.0,257.2 783.5,254.9 784.0,252.6 785.5,250.2 786.0,247.9 786.5,245.7 786.9,243.5 787.4,241.7 788.9,239.8 789.4,237.7 789.9,235.3 790.4,232.9 792.3,230.4 792.8,228.1 793.3,225.8 793.8,223.5 794.3,221.4 795.7,219.3 796.2,217.4 796.7,215.6 797.2,213.9 797.7,212.4 799.2,210.9 799.7,209.4 800.1,208.2 800.6,207.1 801.1,206.1 802.6,204.8 803.1,203.4 803.6,202.3 804.0,201.3 804.5,200.5 806.0,199.3 806.5,198.1 807.0,196.7 807.5,195.2 808.0,194.2 809.4,193.4 809.9,192.5 810.4,191.7 810.9,190.9 811.4,190.2 812.8,189.3 813.3,188.5 813.8,188.3 814.3,187.9 814.8,187.6 816.3,187.2 816.8,187.1 817.2,187.4 817.7,187.8 818.2,187.6 820.2,187.3 820.7,186.8 821.2,186.2 821.6,185.5 823.1,184.9 823.6,184.2 824.1,183.4 824.6,182.8 825.1,182.3 826.5,182.0 827.0,181.9 827.5,181.4 828.0,180.9 828.5,180.3 830.0,179.7 830.4,179.2 831.4,178.7 831.9,177.9 833.4,177.0 833.9,176.1 834.4,175.2 834.8,174.4 835.3,173.5 836.8,172.7 837.3,171.8 837.8,171.2 838.8,170.9 840.2,170.6 840.7,170.2 841.2,169.9 841.7,169.7 842.2,169.6 843.6,169.9 844.1,170.4 844.6,170.6 845.1,170.6 845.6,170.5 847.1,170.2 847.6,169.9 848.0,169.3 848.5,168.9 849.0,168.5 850.5,168.6 851.0,168.7 851.5,169.0 852.0,169.2 852.4,169.2 853.9,169.2 854.4,169.0 854.9,169.4 855.4,169.6 855.9,170.0 857.3,170.2 857.8,170.1 858.3,169.9 858.8,169.4 859.3,168.9 860.8,168.6 861.2,168.3 861.7,167.7 862.2,166.8 862.7,166.0 864.2,165.1 864.7,164.1 865.1,163.1 865.6,162.3 866.1,161.5 868.1,160.8 868.6,160.3 869.1,159.9 869.5,159.4 871.0,158.6 871.5,157.2 872.0,155.5 872.5,153.6 873.0,151.5 874.4,149.4 874.9,147.4 875.4,145.5 875.9,143.7 876.4,141.9 877.9,140.4 878.3,138.4 878.8,136.3 879.3,134.2 879.8,132.1 881.3,130.4 881.8,128.7 882.3,127.2 882.7,126.0 883.2,124.7 884.7,123.6 885.2,122.3 885.7,121.0 886.2,119.5 886.7,118.0 888.1,116.1 888.6,114.0 889.1,111.8 889.6,109.6 890.1,107.8 891.5,106.1 892.0,104.7 892.5,103.7 893.0,102.7 893.5,101.9 895.0,101.5 895.5,101.6 895.9,102.1 896.4,102.7 896.9,103.4 898.4,103.9 898.9,104.5 899.4,105.0 899.9,105.4 900.3,105.6 901.8,105.6 902.3,105.3 902.8,104.7 903.3,103.9 903.8,103.1 905.2,102.7 905.7,102.7 906.2,102.6 906.7,102.6 907.2,102.5 908.7,102.4 909.1,102.1 909.6,101.8 910.6,101.6 912.1,101.4 912.6,101.2 913.1,101.1 913.5,101.1 914.0,101.4 915.5,101.9 916.0,102.4 916.5,103.1 917.0,103.8 917.5,104.4 918.9,105.1 919.4,105.6 919.9,106.1 920.4,106.7 920.9,107.1 922.3,107.6 922.8,108.3 923.8,108.9 924.3,109.7 925.8,110.5 926.2,111.4 927.2,112.2 927.7,113.1 929.2,113.9 929.7,114.7 930.2,115.3 931.1,115.5 932.6,115.0 933.1,113.4 933.6,111.8 934.1,110.1 934.6,108.6 936.5,107.2 937.0,105.6 937.5,104.0 938.0,102.2 939.4,100.7 939.9,99.5 940.4,98.3 940.9,97.1 941.4,95.9 942.9,94.7 943.4,93.4 943.8,92.6 944.3,92.1 944.8,91.6 946.3,91.4 946.8,90.9 947.3,90.2 947.8,89.6 948.2,89.3 950.2,89.9 950.7,91.0 951.2,92.5 951.7,93.8 953.1,94.7 953.6,95.5 954.1,96.1 954.6,96.5 955.1,96.7 956.6,96.9 957.0,97.3 957.5,97.8 958.0,98.2 958.5,98.8 960.0,99.0 960.5,99.0 961.0,99.6 961.4,100.5 961.9,101.0 963.4,100.8 963.9,101.0 964.4,101.1 964.9,101.2 965.4,101.4 966.8,101.5 967.3,101.7 967.8,102.2 968.3,103.0 968.8,103.9 970.2,104.9 970.7,105.8 971.2,106.9 971.7,108.1 972.2,109.8 973.7,112.0 974.2,114.4 974.6,116.4 975.1,118.3 975.6,119.8 977.1,121.8 977.6,124.1 978.1,126.8 978.6,129.6 980.5,132.5 981.0,135.3 981.5,137.8 982.0,140.4 982.5,143.2 983.9,145.7 984.4,147.9 984.9,148.9 985.4,149.4 985.9,149.5 987.3,149.6 987.8,149.6 988.3,149.6 988.8,149.7 989.3,149.9 990.8,150.2 991.3,150.4 991.7,150.7 992.2,150.6 992.7,150.3 994.2,150.0 994.7,150.2 995.2,151.0 995.7,151.5 996.1,151.7 998.1,152.1 998.6,153.0 999.1,154.0 999.6,155.0 1001.0,156.1 1001.5,157.2 1002.0,158.4 1002.5,159.4 1003.0,160.3 1004.5,161.2 1004.9,162.1 1005.4,163.2 1005.9,164.5 1006.4,165.8 1007.9,167.1 1008.4,168.0 1008.9,168.7 1009.8,169.2 1011.3,170.0 1011.8,170.8 1012.3,172.0 1012.8,172.7 1013.3,173.0 1014.7,172.9 1015.2,172.3 1015.7,171.3 1016.2,170.8 1018.1,170.4 1018.6,170.2 1019.1,170.1 1019.6,169.9 1020.1,169.8 1021.6,169.7 1022.1,169.6 1022.5,169.5 1023.0,169.5 1023.5,169.6 1025.0,169.9 1025.5,169.8 1026.0,169.2 1026.5,168.9 1026.9,168.6 1028.4,168.1 1028.9,167.8 1029.4,167.9 1029.9,168.0 1030.4,168.4 1031.8,168.8 1032.3,169.3 1032.8,170.1 1033.3,171.0 1033.8,171.6 1035.3,172.2 1035.7,172.4 1036.2,172.4 1036.7,172.5 1037.2,172.5 1038.7,172.8 1039.2,173.0 1039.7,173.2 1040.1,173.4 1040.6,173.4 1042.1,173.4 1042.6,173.4 1043.1,173.5 1043.6,173.5 1044.1,173.4 1046.0,173.4 1046.5,173.4 1047.0,173.6 1047.5,174.0 1048.9,174.4 1049.4,174.9 1049.9,175.6 1050.4,176.6 1050.9,177.7 1052.4,178.5 1052.8,179.6 1053.3,180.7 1053.8,181.7 1054.3,182.6 1055.8,183.5 1056.3,184.2 1056.8,185.1 1057.2,185.8 1057.7,186.6 1059.2,187.2 1059.7,187.7 1060.2,188.8 1060.7,190.3 1061.2,191.5 1062.6,192.8 1063.1,194.1 1063.6,195.5 1064.1,196.8 1064.6,198.3 1066.0,199.2 1066.5,199.9 1067.0,200.4 1067.5,200.5 1068.0,200.6 1069.5,200.6 1070.0,200.7 1070.4,201.0 1070.9,201.4 1071.4,201.8 1072.9,202.3 1073.4,203.0 1073.9,204.1 1074.4,205.3 1074.8,206.7 1076.3,208.0 1076.8,209.4 1077.3,210.5 1077.8,211.6 1078.3,212.6 1079.7,213.6 1080.2,214.6 1080.7,215.5 1081.2,216.6 1081.7,217.7 1083.2,219.0 1083.6,220.3 1084.1,221.5 1084.6,222.8 1085.1,223.7 1086.6,224.4 1087.1,225.0 1087.6,225.6 1088.5,226.3 1090.0,227.0 1090.5,227.9 1091.0,229.1 1091.5,230.2 1092.0,231.3 1093.4,232.3 1093.9,233.5 1094.4,234.6 1094.9,235.5 1095.4,236.2 1096.8,237.2 1097.3,238.1 1097.8,238.9 1098.3,239.8 1098.8,240.6 1100.3,241.1 1100.8,241.9 1101.2,242.7 1102.2,243.6 1103.7,244.6 1104.2,245.6 1104.7,246.6 1105.6,247.7 1107.1,248.8 1107.6,249.9 1108.1,251.0 1108.6,252.4 1109.1,253.3 1110.5,254.1 1111.0,254.8 1111.5,255.9 1112.0,257.1 1112.5,258.2 1114.4,259.4 1114.9,260.7 1115.4,261.8 1115.9,262.9 1117.4,264.1 1117.9,265.4 1118.3,266.6 1118.8,267.7 1119.3,268.5 1120.8,269.1 1121.3,267.7"/>
<polyline stroke="#ff0000" points="151.0,373.6 152.5,373.9 153.0,374.2 153.5,374.2 153.9,374.5 154.4,374.7 156.4,375.0 156.9,374.6 157.4,373.8 157.9,373.0 159.3,372.1 159.8,370.8 160.3,369.3 160.8,368.1 161.3,367.2 162.7,367.0 163.2,367.4 163.7,368.0 164.2,368.8 164.7,369.4 166.2,369.8 166.7,370.4 167.1,371.1 167.6,371.5 168.1,371.7 169.6,371.7 170.1,372.0 170.6,372.2 171.1,372.2 171.5,371.9 173.0,371.5 173.5,371.0 174.0,370.5 174.5,370.2 175.0,369.8 176.4,369.5 176.9,369.6 177.4,369.9 177.9,369.8 178.4,369.3 179.9,368.4 180.3,367.6 180.8,366.8 181.3,366.0 181.8,365.6 183.3,365.0 183.8,363.6 184.3,361.7 184.7,359.6 185.2,357.6 186.7,355.4 187.2,352.4 187.7,349.6 188.2,346.4 188.7,343.1 190.1,339.4 190.6,336.2 191.1,333.3 191.6,330.7 192.1,328.2 193.5,325.2 194.0,322.2 194.5,319.2 195.5,316.3 197.0,313.5 197.4,310.7 197.9,308.2 198.4,305.5 198.9,302.6 200.4,299.2 200.9,295.8 201.4,293.0 201.8,290.5 202.3,288.5 203.8,286.7 204.3,285.0 204.8,283.8 205.3,282.5 205.8,281.5 207.2,280.8 207.7,280.5 208.2,279.9 208.7,278.8 210.6,277.7 211.1,276.5 211.6,275.5 212.1,274.4 214.1,273.5 214.6,272.1 215.0,270.3 215.5,268.1 216.0,265.4 217.5,262.9 218.0,260.3 218.5,258.4 219.0,257.3 219.4,256.3 221.4,255.6 221.9,254.4 222.4,253.0 222.9,252.1 224.3,251.7 224.8,251.3 225.3,250.8 225.8,250.5 226.3,250.1 227.8,249.7 228.2,249.7 228.7,250.0 229.2,250.9 229.7,252.0 231.2,252.7 231.7,253.2 232.2,254.3 232.6,255.5 233.1,257.0 235.1,259.6 235.6,262.7 236.1,266.2 236.6,269.4 238.0,272.1 238.5,274.9 239.0,277.3 239.5,280.0 240.0,282.6 241.4,284.9 241.9,287.2 242.4,289.5 242.9,291.7 243.4,293.5 244.9,295.0 245.4,296.6 245.8,297.8 246.3,298.7 246.8,299.0 248.3,299.1 248.8,299.5 249.3,300.0 249.8,300.5 250.2,301.0 251.7,301.9 252.2,301.3 252.7,300.2 253.2,298.5 253.7,297.0 255.1,295.8 255.6,294.7 256.1,294.0 256.6,293.4 258.5,292.6 259.0,292.0 259.5,291.4 260.0,290.8 260.5,290.3 262.0,289.8 262.5,289.4 262.9,289.0 263.4,288.5 263.9,287.7 265.4,286.9 265.9,286.2 266.4,285.5 266.9,285.0 267.3,284.6 268.8,284.1 269.3,283.1 269.8,282.2 270.3,281.3 270.8,280.3 272.2,278.6 272.7,276.2 273.2,273.5 273.7,270.7 274.2,267.7 275.7,264.6 276.1,261.8 276.6,259.5 277.1,256.9 277.6,254.2 279.1,251.8 279.6,249.9 280.1,248.0 280.5,246.2 281.0,244.7 282.5,243.4 283.0,242.2 283.5,241.1 284.0,240.0 284.5,238.8 286.4,237.8 286.9,236.9 287.4,236.1 287.9,235.6 289.3,235.4 289.8,235.6 290.3,235.9 290.8,236.4 291.3,236.9 292.8,237.4 293.3,238.2 293.7,238.4 294.2,238.4 294.7,238.7 296.2,238.9 296.7,239.3 297.2,239.6 297.7,239.9 298.1,240.2 299.6,240.4 300.1,240.3 300.6,240.3 301.1,240.0 301.6,239.7 303.5,239.4 304.0,239.2 304.5,238.9 305.0,238.7 306.5,238.1 306.9,237.6 307.4,237.5 307.9,237.7 308.4,238.1 309.9,238.8 310.4,239.6 310.9,240.2 311.3,240.7 311.8,241.1 313.3,241.4 313.8,242.1 314.3,242.6 314.8,242.7 315.2,242.7 316.7,242.0 317.2,240.7 317.7,238.9 318.2,237.2 318.7,235.6 320.1,234.4 320.6,232.9 321.1,231.3 321.6,229.9 322.1,228.5 323.6,227.5 324.0,226.1 324.5,224.4 325.0,222.5 325.5,220.5 327.0,218.3 327.5,216.4 328.0,214.7 328.4,213.3 328.9,211.7 330.4,210.3 330.9,208.6 331.4,206.7 331.9,204.8 332.4,202.9 334.3,202.0 334.8,201.8 335.3,202.7 335.8,204.2 337.2,205.5 337.7,206.6 338.2,208.1 338.7,209.9 339.2,211.4 340.7,213.0 341.2,214.4 341.6,215.8 342.1,217.4 342.6,219.2 344.1,220.8 344.6,222.5 345.1,224.2 345.6,226.2 346.0,228.3 347.5,230.4 348.0,232.7 348.5,235.1 349.0,237.9 349.5,240.9 350.9,244.3 351.4,247.4 351.9,250.7 352.4,253.1 352.9,254.8 354.4,256.6 354.8,258.1 355.3,259.2 355.8,260.0 356.3,260.9 357.8,262.0 358.3,263.4 358.8,265.2 359.2,267.1 359.7,269.1 361.2,271.8 361.7,274.4 362.2,276.7 362.7,278.5 363.2,279.8 364.6,281.1 365.1,282.5 365.6,283.8 366.1,284.8 366.6,285.8 368.0,286.5 368.5,287.5 369.0,288.8 369.5,290.5 370.0,292.4 371.5,293.8 372.0,295.4 372.4,297.4 373.4,299.8 374.9,302.4 375.4,305.2 375.9,307.5 376.3,309.5 376.8,311.0 378.3,311.8 378.8,311.9 379.3,311.9 379.8,311.8 380.3,311.6 381.7,311.9 382.2,312.1 382.7,312.3 383.2,312.4 383.7,312.5 385.1,312.3 385.6,312.1 386.1,311.2 386.6,309.8 388.6,308.0 389.1,306.0 389.5,304.4 390.0,302.6 392.0,300.4 392.5,298.1 393.0,295.7 393.5,293.0 393.9,290.7 395.4,288.1 395.9,285.7 396.4,283.6 396.9,281.7 397.4,279.9 399.3,278.7 399.8,278.0 400.3,277.4 400.8,277.0 402.3,276.4 402.7,275.8 403.2,275.3 403.7,275.0 404.2,274.8 405.7,274.8 406.2,274.9 406.7,275.2 407.1,275.7 407.6,276.3 409.1,276.8 409.6,277.2 410.1,277.5 410.6,277.8 411.1,278.0 412.5,277.5 413.0,276.9 413.5,276.1 414.0,275.8 414.5,275.9 416.4,276.2 416.9,275.9 417.4,275.4 417.9,274.9 419.4,274.2 419.9,273.7 420.3,273.4 420.8,273.2 421.3,273.0 422.8,272.8 423.3,272.8 423.8,272.5 424.3,272.3 424.7,272.2 426.2,272.3 426.7,272.4 427.2,272.7 427.7,272.7 428.2,272.5 429.6,272.3 430.1,272.8 430.6,273.9 431.1,275.4 431.6,275.9 433.1,275.9 433.5,275.6 434.0,275.5 434.5,275.6 435.0,275.5 436.5,275.6 437.0,275.0 437.4,273.9 437.9,272.3 438.4,270.8 439.9,269.8 440.4,268.5 440.9,267.3 441.4,266.3 443.3,265.6 443.8,263.7 444.3,261.9 444.8,260.2 445.3,258.9 446.7,258.5 447.2,258.3 447.7,258.7 448.2,259.0 448.7,259.1 450.2,259.5 450.6,260.5 451.1,261.6 451.6,263.0 452.1,264.3 453.6,265.3 454.1,266.7 454.6,268.8 455.0,271.4 455.5,274.6 457.0,277.8 457.5,281.2 458.0,285.0 458.5,289.1 459.0,292.9 460.4,297.0 460.9,301.4 461.4,305.6 461.9,309.4 462.4,313.0 464.3,316.0 464.8,318.6 465.3,320.4 465.8,322.1 467.3,324.0 467.8,326.0 468.2,328.0 468.7,329.9 469.2,331.6 470.7,333.5 471.2,335.7 471.7,337.7 472.2,339.6 472.6,341.6 474.6,344.2 475.1,347.7 475.6,350.6 476.1,353.1 477.5,355.1 478.0,357.1 478.5,359.1 479.0,360.8 479.5,362.7 481.4,364.9 481.9,367.5 482.4,369.6 482.9,371.4 484.4,373.4 484.9,375.5 485.4,377.2 485.8,378.8 486.3,380.3 487.8,381.6 488.3,382.5 488.8,383.0 489.3,383.4 489.8,383.9 491.2,384.3 491.7,384.5 492.2,384.1 492.7,382.9 493.2,381.8 494.6,380.5 495.1,379.8 495.6,379.2 496.1,378.3 496.6,377.4 498.1,376.3 498.5,375.0 499.0,373.3 499.5,371.8 500.0,370.5 501.5,368.9 502.0,367.4 502.5,366.0 502.9,364.6 503.4,363.8 504.9,362.7 505.4,362.0 505.9,361.2 506.4,360.5 506.9,359.8 508.3,359.7 508.8,359.8 509.3,359.7 509.8,359.5 510.3,359.3 512.2,359.1 512.7,358.5 513.2,357.6 513.7,356.7 515.2,355.5 515.7,355.0 516.1,354.9 516.6,354.9 517.1,354.9 518.6,354.8 519.1,354.6 519.6,354.9 520.1,355.4 520.5,356.4 522.0,357.4 522.5,358.8 523.0,360.2 523.5,361.5 524.0,362.9 525.4,363.9 525.9,363.8 526.4,363.4 526.9,363.1 527.4,362.9 528.9,362.6 529.3,362.6 529.8,362.9 530.3,363.3 530.8,363.8 532.3,364.5 532.8,365.1 533.3,365.3 533.7,365.5 534.2,365.6 535.7,365.8 536.2,366.0 536.7,365.3 537.2,363.8 537.7,362.6 539.1,364.5 539.6,366.0 540.1,368.1 540.6,370.2 541.1,371.9 542.5,374.4 543.0,377.3 543.5,380.8 544.0,383.7 544.5,386.0 546.0,388.4 546.5,391.0 546.9,393.7 547.4,396.5 547.9,399.2 549.4,401.9 549.9,404.5 550.4,407.1 551.3,409.7 552.8,412.5 553.3,415.3 553.8,418.1 554.3,421.4 554.8,425.1 556.2,428.1 556.7,427.5 557.2,427.4 557.7,426.6 558.2,425.8 559.6,425.2 560.1,424.4 560.6,423.3 561.1,422.0 561.6,421.3 563.1,421.3 563.6,421.5 564.0,421.3 564.5,420.7 565.0,420.2 567.0,419.7 567.5,419.6 568.0,419.5 568.4,419.4 570.4,419.3 570.9,418.5 571.4,417.6 571.9,416.4 573.3,415.6 573.8,414.9 574.3,414.3 574.8,413.7 575.3,413.0 577.2,412.1 577.7,411.4 578.2,410.7 578.7,409.9 580.2,409.3 580.7,408.8 581.2,407.9 581.6,406.7 582.1,405.2 583.6,403.8 584.1,402.4 584.6,400.8 585.1,399.1 585.6,397.3 587.0,395.7 587.5,394.0 588.0,392.5 588.5,391.6 589.0,391.1 590.4,390.7 590.9,390.1 591.4,389.4 591.9,388.7 592.4,388.0 594.4,387.2 594.8,386.4 595.3,385.7 595.8,385.2 597.3,384.9 597.8,384.4 598.3,383.6 598.8,383.1 599.2,382.9 600.7,383.1 601.2,383.3 601.7,384.2 602.2,385.6 602.7,387.2 604.1,388.8 604.6,389.9 605.1,390.9 605.6,391.8 606.1,392.7 607.6,393.6 608.0,394.6 608.5,395.8 609.0,397.0 609.5,398.1 611.0,399.0 611.5,399.9 612.0,400.9 612.4,401.6 612.9,401.9 614.4,401.9 614.9,401.8 615.4,401.9 615.9,401.7 617.8,401.4 618.3,400.6 618.8,399.8 619.3,398.6 619.8,397.2 621.2,395.8 621.7,394.4 622.2,393.3 622.7,392.1 623.2,390.8 624.7,389.3 625.1,387.7 625.6,386.2 626.1,384.3 626.6,382.1 628.1,379.9 628.6,378.1 629.1,376.5 629.5,375.2 630.0,373.9 631.5,372.8 632.0,370.0 632.5,367.4 633.0,364.6 633.5,363.0 634.9,360.8 635.4,358.6 635.9,356.4 636.4,354.0 636.9,351.5 638.3,349.1 638.8,347.0 639.3,345.2 639.8,343.7 640.3,342.6 642.3,342.0 642.7,340.9 643.2,339.5 643.7,338.0 645.2,336.5 645.7,335.1 646.2,333.4 646.7,331.9 647.1,330.4 648.6,328.9 649.1,327.6 649.6,327.9 650.1,328.3 650.6,328.6 652.5,328.1 653.0,328.1 653.5,328.1 654.0,328.2 655.5,328.7 655.9,329.2 656.4,329.8 656.9,329.9 657.4,329.4 658.9,328.5 659.9,327.3 660.3,325.7 660.8,324.3 662.3,323.3 662.8,322.6 663.3,321.9 663.8,321.4 664.3,321.0 665.7,320.5 666.2,319.3 666.7,318.2 667.2,317.2 667.7,316.4 669.1,316.1 669.6,315.5 670.1,314.8 670.6,314.6 671.1,314.5 672.6,314.5 673.1,313.8 673.5,312.7 674.0,311.2 674.5,309.2 676.0,307.6 676.5,305.9 677.0,304.9 677.5,304.1 677.9,303.4 679.4,302.9 679.9,302.4 680.4,302.3 680.9,302.3 681.4,302.7 682.8,302.6 683.3,303.1 683.8,303.5 684.3,303.8 684.8,304.0 686.2,303.9 686.7,304.0 687.2,304.0 687.7,303.5 688.2,303.3 690.2,303.5 690.6,304.4 691.1,305.8 691.6,307.4 693.1,309.4 693.6,311.5 694.1,313.4 694.6,314.9 695.0,316.3 696.5,317.2 697.0,317.9 697.5,318.3 698.0,318.9 698.5,319.6 699.9,319.8 700.4,320.4 700.9,321.3 701.4,322.3 701.9,323.4 703.4,324.5 703.8,325.4 704.3,326.6 704.8,328.2 705.3,330.1 706.8,332.0 707.3,334.6 707.8,337.8 708.2,341.0 708.7,344.4 710.2,347.7 710.7,350.9 711.2,354.0 711.7,356.6 712.2,359.7 713.6,362.8 714.1,366.0 714.6,369.9 715.1,373.6 715.6,376.9 717.0,380.3 717.5,383.5 718.0,386.2 718.5,388.9 719.0,391.2 720.5,392.9 721.0,394.4 721.4,395.8 721.9,396.8 722.4,397.5 723.9,397.6 724.4,395.9 724.9,392.8 725.4,389.6 725.8,386.1 727.3,382.4 727.8,379.2 728.3,376.3 729.3,373.7 730.7,370.4 731.2,367.5 731.7,364.2 732.2,360.3 732.7,356.0 734.2,351.5 734.6,347.2 735.1,343.1 735.6,338.9 736.1,334.5 737.6,330.4 738.1,326.7 738.6,323.0 739.0,319.6 739.5,316.5 741.0,313.2 741.5,310.5 742.0,308.5 742.5,307.2 742.9,305.9 744.9,304.8 745.4,303.8 745.9,302.9 746.4,301.7 748.3,300.8 748.8,299.8 749.3,298.9 749.8,298.2 751.3,297.5 751.7,297.0 752.2,296.5 752.7,295.8 753.2,295.2 755.2,295.4 755.7,295.8 756.1,296.1 756.6,296.6 758.1,297.2 758.6,297.7 759.1,297.9 759.6,298.0 760.1,297.8 761.5,297.2 762.0,296.3 762.5,295.5 763.0,294.7 763.5,293.7 764.9,292.7 765.4,291.8 765.9,290.7 766.4,289.6 766.9,288.5 768.4,286.9 768.9,285.3 769.3,283.2 769.8,281.2 770.3,279.4 772.3,277.4 772.8,274.7 773.3,271.7 773.7,268.7 775.2,265.6 775.7,262.1 776.2,258.7 776.7,255.5 777.2,252.5 778.6,249.7 779.1,245.8 779.6,242.0 780.1,238.2 780.6,234.4 782.1,230.6 782.5,226.5 783.0,222.6 783.5,219.0 784.0,215.7 785.5,212.0 786.0,208.9 786.5,206.2 786.9,203.9 787.4,202.2 788.9,200.3 789.4,198.1 789.9,196.0 790.4,194.1 792.3,192.1 792.8,190.6 793.3,189.5 793.8,188.4 794.3,187.3 795.7,186.1 796.2,185.1 796.7,185.4 797.2,185.9 797.7,186.6 799.2,187.4 799.7,188.3 800.1,189.9 800.6,191.6 801.1,193.1 802.6,194.0 803.1,194.9 803.6,195.7 804.0,196.4 804.5,197.0 806.0,196.5 806.5,196.0 807.0,195.3 807.5,194.5 808.0,194.4 809.4,194.6 809.9,194.4 810.4,194.0 810.9,193.4 811.4,193.0 812.8,192.6 813.3,192.0 813.8,191.1 814.3,189.8 814.8,188.5 816.3,187.0 816.8,185.9 817.2,184.9 817.7,184.1 818.2,182.2 820.2,180.7 820.7,178.7 821.2,176.6 821.6,174.6 823.1,172.7 823.6,171.8 824.1,170.9 824.6,170.4 825.1,170.2 826.5,169.6 827.0,169.1 827.5,168.5 828.0,167.7 828.5,167.2 830.0,166.5 830.4,165.8 831.4,165.4 831.9,164.8 833.4,164.2 833.9,163.7 834.4,163.4 834.8,162.9 835.3,162.2 836.8,161.2 837.3,161.4 837.8,161.8 838.8,163.1 840.2,164.6 840.7,165.9 841.2,167.1 841.7,167.6 842.2,168.2 843.6,169.4 844.1,170.5 844.6,171.5 845.1,172.1 845.6,172.5 847.1,172.7 847.6,172.6 848.0,172.2 848.5,171.9 849.0,171.7 850.5,172.5 851.0,173.3 851.5,174.3 852.0,174.9 852.4,175.5 853.9,176.2 854.4,176.8 854.9,177.4 855.4,177.5 855.9,176.9 857.3,175.8 857.8,174.3 858.3,172.7 858.8,171.2 859.3,169.6 860.8,167.7 861.2,166.0 861.7,163.9 862.2,161.5 862.7,159.5 864.2,157.5 864.7,155.7 865.1,154.1 865.6,152.6 866.1,151.3 868.1,149.1 868.6,147.4 869.1,145.6 869.5,143.9 871.0,141.6 871.5,138.2 872.0,134.3 872.5,129.8 873.0,125.6 874.4,121.9 874.9,118.9 875.4,116.7 875.9,114.6 876.4,112.6 877.9,111.1 878.3,109.0 878.8,106.6 879.3,104.5 879.8,102.7 881.3,101.3 881.8,99.8 882.3,98.7 882.7,98.0 883.2,96.7 884.7,95.9 885.2,95.5 885.7,94.6 886.2,93.4 886.7,92.2 888.1,90.6 888.6,89.9 889.1,89.3 889.6,89.4 890.1,89.9 891.5,90.4 892.0,90.5 892.5,90.6 893.0,90.8 893.5,91.3 895.0,91.9 895.5,94.1 895.9,97.6 896.4,100.9 896.9,104.1 898.4,106.6 898.9,109.2 899.4,111.3 899.9,112.9 900.3,114.5 901.8,115.2 902.3,115.1 902.8,114.8 903.3,114.5 903.8,114.1 905.2,114.9 905.7,115.4 906.2,115.8 906.7,115.7 907.2,115.0 908.7,114.4 909.1,113.7 909.6,113.0 910.6,112.3 912.1,111.5 912.6,110.5 913.1,108.1 913.5,104.6 914.0,101.8 915.5,99.7 916.0,98.2 916.5,97.1 917.0,96.3 917.5,95.8 918.9,95.7 919.4,96.0 919.9,97.0 920.4,98.7 920.9,99.8 922.3,101.0 922.8,101.7 923.8,102.4 924.3,103.6 925.8,105.2 926.2,107.6 927.2,109.9 927.7,112.3 929.2,114.6 929.7,116.7 930.2,118.6 931.1,120.1 932.6,121.2 933.1,121.5 933.6,121.0 934.1,119.6 934.6,118.0 936.5,115.8 937.0,113.4 937.5,110.5 938.0,106.8 939.4,103.4 939.9,99.7 940.4,95.5 940.9,92.0 941.4,88.3 942.9,84.9 943.4,81.7 943.8,78.9 944.3,76.1 944.8,72.7 946.3,70.0 946.8,66.8 947.3,63.1 947.8,59.9 948.2,57.3 950.2,57.2 950.7,58.3 951.2,61.1 951.7,64.3 953.1,67.6 953.6,70.9 954.1,74.4 954.6,77.7 955.1,81.2 956.6,85.5 957.0,90.1 957.5,94.9 958.0,100.0 958.5,105.1 960.0,109.5 960.5,113.3 961.0,117.8 961.4,122.7 961.9,126.8 963.4,130.2 963.9,133.6 964.4,137.4 964.9,141.4 965.4,145.1 966.8,147.9 967.3,148.6 967.8,148.4 968.3,147.2 968.8,145.9 970.2,144.4 970.7,142.7 971.2,141.3 971.7,140.2 972.2,140.0 973.7,139.9 974.2,139.8 974.6,139.0 975.1,137.5 975.6,135.4 977.1,134.6 977.6,135.4 978.1,136.2 978.6,136.9 980.5,138.5 981.0,140.6 981.5,142.2 982.0,143.6 982.5,145.1 983.9,146.4 984.4,147.9 984.9,149.2 985.4,150.5 985.9,151.8 987.3,153.3 987.8,154.8 988.3,156.5 988.8,158.1 989.3,159.6 990.8,160.4 991.3,160.9 991.7,161.6 992.2,162.2 992.7,163.0 994.2,164.5 994.7,165.7 995.2,166.5 995.7,166.8 996.1,166.6 998.1,165.6 998.6,165.4 999.1,165.7 999.6,166.3 1001.0,167.2 1001.5,168.1 1002.0,168.8 1002.5,169.5 1003.0,170.1 1004.5,170.6 1004.9,170.9 1005.4,171.6 1005.9,172.5 1006.4,173.6 1007.9,174.6 1008.4,175.6 1008.9,176.5 1009.8,176.8 1011.3,177.7 1011.8,178.7 1012.3,179.5 1012.8,179.7 1013.3,179.5 1014.7,179.0 1015.2,178.0 1015.7,177.0 1016.2,176.2 1018.1,175.1 1018.6,174.0 1019.1,172.9 1019.6,171.8 1020.1,170.8 1021.6,169.8 1022.1,169.0 1022.5,168.5 1023.0,168.1 1023.5,167.7 1025.0,167.4 1025.5,165.9 1026.0,163.9 1026.5,162.2 1026.9,160.7 1028.4,159.4 1028.9,158.0 1029.4,157.1 1029.9,156.6 1030.4,157.0 1031.8,158.0 1032.3,159.6 1032.8,162.2 1033.3,165.1 1033.8,167.1 1035.3,169.3 1035.7,170.8 1036.2,172.0 1036.7,173.1 1037.2,174.3 1038.7,175.7 1039.2,177.0 1039.7,178.0 1040.1,178.6 1040.6,179.1 1042.1,179.4 1042.6,180.8 1043.1,183.0 1043.6,184.8 1044.1,186.1 1046.0,187.4 1046.5,188.9 1047.0,190.2 1047.5,191.4 1048.9,191.7 1049.4,191.8 1049.9,191.6 1050.4,190.9 1050.9,190.3 1052.4,190.0 1052.8,190.0 1053.3,190.6 1053.8,191.4 1054.3,192.1 1055.8,192.8 1056.3,192.8 1056.8,193.1 1057.2,193.7 1057.7,194.6 1059.2,195.2 1059.7,196.1 1060.2,196.8 1060.7,197.6 1061.2,198.3 1062.6,199.4 1063.1,200.7 1063.6,202.1 1064.1,203.4 1064.6,205.2 1066.0,206.7 1066.5,208.1 1067.0,209.1 1067.5,210.1 1068.0,210.9 1069.5,211.3 1070.0,211.4 1070.4,211.3 1070.9,211.3 1071.4,211.5 1072.9,211.7 1073.4,213.3 1073.9,215.0 1074.4,217.0 1074.8,218.7 1076.3,220.8 1076.8,222.7 1077.3,224.3 1077.8,225.7 1078.3,226.9 1079.7,227.8 1080.2,228.5 1080.7,229.0 1081.2,229.7 1081.7,230.2 1083.2,231.2 1083.6,232.4 1084.1,233.8 1084.6,235.4 1085.1,236.4 1086.6,237.5 1087.1,238.6 1087.6,239.9 1088.5,241.2 1090.0,242.5 1090.5,244.1 1091.0,244.9 1091.5,245.4 1092.0,245.6 1093.4,245.9 1093.9,246.3 1094.4,246.6 1094.9,246.8 1095.4,246.8 1096.8,247.5 1097.3,248.4 1097.8,249.3 1098.3,250.5 1098.8,251.4 1100.3,252.0 1100.8,252.6 1101.2,253.1 1102.2,253.4 1103.7,253.7 1104.2,254.7 1104.7,255.8 1105.6,256.8 1107.1,257.7 1107.6,258.5 1108.1,259.5 1108.6,260.7 1109.1,261.7 1110.5,262.7 1111.0,264.0 1111.5,266.0 1112.0,267.9 1112.5,269.7 1114.4,272.0 1114.9,274.6 1115.4,276.1 1115.9,277.4 1117.4,278.8 1117.9,280.3 1118.3,281.8 1118.8,283.3 1119.3,284.4 1120.8,285.1 1121.3,282.0"/>
<polyline stroke="#800080" points="276.1,309.3 276.6,308.7 277.1,308.1 277.6,307.4 279.1,306.7 279.6,306.1 280.1,305.4 280.5,304.7 281.0,303.9 282.5,303.2 283.0,302.5 283.5,301.7 284.0,301.0 284.5,300.3 286.4,299.6 286.9,298.9 287.4,298.2 287.9,297.6 289.3,297.0 289.8,296.4 290.3,295.8 290.8,295.1 291.3,294.5 292.8,293.8 293.3,293.1 293.7,292.4 294.2,291.8 294.7,291.2 296.2,290.5 296.7,289.8 297.2,289.2 297.7,288.5 298.1,287.9 299.6,287.2 300.1,286.6 300.6,286.0 301.1,285.4 301.6,284.8 303.5,284.2 304.0,283.6 304.5,282.9 305.0,282.2 306.5,281.4 306.9,280.6 307.4,279.9 307.9,279.3 308.4,278.6 309.9,277.9 310.4,277.3 310.9,276.7 311.3,276.1 311.8,275.4 313.3,274.8 313.8,274.2 314.3,273.7 314.8,273.1 315.2,272.5 316.7,271.8 317.2,271.1 317.7,270.3 318.2,269.4 318.7,268.6 320.1,267.9 320.6,267.1 321.1,266.3 321.6,265.6 322.1,264.8 323.6,264.0 324.0,263.1 324.5,262.3 325.0,261.4 325.5,260.7 327.0,260.0 327.5,259.4 328.0,258.8 328.4,258.3 328.9,257.9 330.4,257.4 330.9,257.0 331.4,256.6 331.9,256.3 332.4,255.8 334.3,255.4 334.8,254.9 335.3,254.6 335.8,254.3 337.2,254.1 337.7,253.8 338.2,253.6 338.7,253.4 339.2,253.1 340.7,252.9 341.2,252.6 341.6,252.3 342.1,252.0 342.6,251.9 344.1,251.7 344.6,251.5 345.1,251.4 345.6,251.3 346.0,251.2 347.5,251.2 348.0,251.2 348.5,251.2 349.0,251.3 349.5,251.3 350.9,251.4 351.4,251.5 351.9,251.6 352.4,251.7 352.9,251.8 354.4,251.9 354.8,251.9 355.3,252.0 355.8,252.2 356.3,252.3 357.8,252.5 358.3,252.8 358.8,253.0 359.2,253.3 359.7,253.5 361.2,253.8 361.7,254.0 362.2,254.3 362.7,254.6 363.2,254.8 364.6,255.1 365.1,255.3 365.6,255.5 366.1,255.8 366.6,256.0 368.0,256.2 368.5,256.4 369.0,256.7 369.5,256.9 370.0,257.0 371.5,257.2 372.0,257.4 372.4,257.6 373.4,257.9 374.9,258.2 375.4,258.4 375.9,258.5 376.3,258.5 376.8,258.6 378.3,258.5 378.8,258.5 379.3,258.4 379.8,258.4 380.3,258.3 381.7,258.3 382.2,258.2 382.7,258.2 383.2,258.2 383.7,258.2 385.1,258.2 385.6,258.2 386.1,258.1 386.6,258.1 388.6,258.0 389.1,257.9 389.5,257.8 390.0,257.7 392.0,257.6 392.5,257.5 393.0,257.4 393.5,257.3 393.9,257.3 395.4,257.2 395.9,257.2 396.4,257.0 396.9,256.8 397.4,256.7 399.3,256.5 399.8,256.5 400.3,256.5 400.8,256.4 402.3,256.4 402.7,256.4 403.2,256.4 403.7,256.4 404.2,256.4 405.7,256.4 406.2,256.5 406.7,256.5 407.1,256.6 407.6,256.7 409.1,256.7 409.6,256.7 410.1,256.7 410.6,256.7 411.1,256.8 412.5,256.8 413.0,256.8 413.5,256.8 414.0,257.0 414.5,257.1 416.4,257.4 416.9,257.6 417.4,257.9 417.9,258.1 419.4,258.3 419.9,258.5 420.3,258.8 420.8,259.0 421.3,259.3 422.8,259.5 423.3,259.7 423.8,259.9 424.3,260.1 424.7,260.3 426.2,260.6 426.7,260.7 427.2,260.9 427.7,261.1 428.2,261.2 429.6,261.3 430.1,261.5 430.6,261.6 431.1,261.8 431.6,262.0 433.1,262.1 433.5,262.2 434.0,262.3 434.5,262.5 435.0,262.7 436.5,262.9 437.0,263.0 437.4,263.1 437.9,263.1 438.4,263.1 439.9,263.1 440.4,263.1 440.9,263.1 441.4,263.2 443.3,263.2 443.8,263.2 444.3,263.2 444.8,263.2 445.3,263.2 446.7,263.3 447.2,263.4 447.7,263.7 448.2,264.0 448.7,264.2 450.2,264.5 450.6,264.7 451.1,264.9 451.6,265.1 452.1,265.4 453.6,265.7 454.1,266.0 454.6,266.4 455.0,266.7 455.5,267.1 457.0,267.5 457.5,267.9 458.0,268.5 458.5,269.2 459.0,269.9 460.4,270.7 460.9,271.4 461.4,272.1 461.9,272.7 462.4,273.4 464.3,274.0 464.8,274.7 465.3,275.3 465.8,276.0 467.3,276.7 467.8,277.4 468.2,278.1 468.7,278.8 469.2,279.5 470.7,280.3 471.2,281.0 471.7,281.8 472.2,282.6 472.6,283.4 474.6,284.3 475.1,285.3 475.6,286.4 476.1,287.4 477.5,288.3 478.0,289.2 478.5,290.0 479.0,290.8 479.5,291.6 481.4,292.3 481.9,293.1 482.4,293.8 482.9,294.5 484.4,295.2 484.9,296.0 485.4,296.7 485.8,297.4 486.3,298.1 487.8,298.7 488.3,299.3 488.8,299.9 489.3,300.4 489.8,301.0 491.2,301.5 491.7,302.0 492.2,302.6 492.7,303.1 493.2,303.6 494.6,304.0 495.1,304.5 495.6,305.0 496.1,305.5 496.6,305.9 498.1,306.4 498.5,306.8 499.0,307.2 499.5,307.7 500.0,308.1 501.5,308.4 502.0,308.7 502.5,309.0 502.9,309.3 503.4,309.5 504.9,309.8 505.4,310.0 505.9,310.2 506.4,310.5 506.9,310.8 508.3,311.2 508.8,311.5 509.3,311.9 509.8,312.3 510.3,312.7 512.2,313.0 512.7,313.2 513.2,313.4 513.7,313.5 515.2,313.6 515.7,313.8 516.1,314.0 516.6,314.1 517.1,314.2 518.6,314.3 519.1,314.3 519.6,314.4 520.1,314.6 520.5,314.9 522.0,315.2 522.5,315.6 523.0,316.0 523.5,316.5 524.0,316.9 525.4,317.3 525.9,317.6 526.4,317.9 526.9,318.2 527.4,318.6 528.9,319.0 529.3,319.4 529.8,319.8 530.3,320.3 530.8,320.7 532.3,321.2 532.8,321.6 533.3,322.1 533.7,322.5 534.2,323.0 535.7,323.4 536.2,323.7 536.7,324.1 537.2,324.3 537.7,324.7 539.1,325.6 539.6,326.4 540.1,327.2 540.6,328.0 541.1,328.7 542.5,329.4 543.0,330.2 543.5,331.0 544.0,331.8 544.5,332.5 546.0,333.2 546.5,333.9 546.9,334.7 547.4,335.4 547.9,336.2 549.4,336.9 549.9,337.6 550.4,338.3 551.3,339.1 552.8,339.8 553.3,340.5 553.8,341.3 554.3,342.1 554.8,343.0 556.2,343.8 556.7,344.5 557.2,345.3 557.7,346.1 558.2,346.8 559.6,347.5 560.1,348.2 560.6,348.9 561.1,349.6 561.6,350.3 563.1,351.0 563.6,351.8 564.0,352.5 564.5,353.2 565.0,353.9 567.0,354.6 567.5,355.3 568.0,356.0 568.4,356.7 570.4,357.4 570.9,358.1 571.4,358.7 571.9,359.2 573.3,359.8 573.8,360.4 574.3,361.1 574.8,361.8 575.3,362.5 577.2,363.1 577.7,363.8 578.2,364.4 578.7,365.0 580.2,365.7 580.7,366.5 581.2,367.3 581.6,368.1 582.1,368.8 583.6,369.5 584.1,370.3 584.6,370.9 585.1,371.6 585.6,372.3 587.0,373.0 587.5,373.8 588.0,374.5 588.5,375.1 589.0,375.6 590.4,376.1 590.9,376.5 591.4,377.0 591.9,377.4 592.4,377.9 594.4,378.3 594.8,378.7 595.3,379.0 595.8,379.4 597.3,379.8 597.8,380.2 598.3,380.6 598.8,380.9 599.2,381.2 600.7,381.6 601.2,381.8 601.7,382.2 602.2,382.5 602.7,382.9 604.1,383.2 604.6,383.6 605.1,383.9 605.6,384.3 606.1,384.6 607.6,385.0 608.0,385.4 608.5,385.7 609.0,386.1 609.5,386.5 611.0,386.8 611.5,387.1 612.0,387.3 612.4,387.6 612.9,387.7 614.4,387.9 614.9,388.0 615.4,388.1 615.9,388.1 617.8,387.9 618.3,387.8 618.8,387.7 619.3,387.6 619.8,387.5 621.2,387.5 621.7,387.4 622.2,387.4 622.7,387.3 623.2,387.2 624.7,387.1 625.1,387.0 625.6,387.0 626.1,386.8 626.6,386.7 628.1,386.6 628.6,386.5 629.1,386.4 629.5,386.4 630.0,386.4 631.5,386.4 632.0,386.1 632.5,385.9 633.0,385.6 633.5,385.4 634.9,385.2 635.4,384.9 635.9,384.7 636.4,384.4 636.9,384.1 638.3,383.8 638.8,383.6 639.3,383.5 639.8,383.4 640.3,383.4 642.3,383.4 642.7,383.3 643.2,383.3 643.7,383.2 645.2,383.0 645.7,382.9 646.2,382.7 646.7,382.6 647.1,382.5 648.6,382.4 649.1,382.3 649.6,382.2 650.1,381.9 650.6,381.7 652.5,381.5 653.0,381.3 653.5,381.0 654.0,380.8 655.5,380.6 655.9,380.5 656.4,380.5 656.9,380.4 657.4,380.3 658.9,380.1 659.9,379.9 660.3,379.7 660.8,379.5 662.3,379.3 662.8,379.1 663.3,378.8 663.8,378.5 664.3,378.1 665.7,377.7 666.2,377.3 666.7,376.8 667.2,376.4 667.7,376.1 669.1,375.8 669.6,375.5 670.1,375.3 670.6,375.0 671.1,374.8 672.6,374.5 673.1,374.2 673.5,373.9 674.0,373.6 674.5,373.2 676.0,372.7 676.5,372.3 677.0,372.0 677.5,371.6 677.9,371.3 679.4,371.0 679.9,370.8 680.4,370.7 680.9,370.5 681.4,370.0 682.8,369.4 683.3,368.8 683.8,368.2 684.3,367.6 684.8,367.0 686.2,366.3 686.7,365.7 687.2,365.0 687.7,364.5 688.2,363.9 690.2,363.4 690.6,362.9 691.1,362.4 691.6,362.0 693.1,361.5 693.6,361.0 694.1,360.5 694.6,360.0 695.0,359.5 696.5,359.0 697.0,358.5 697.5,357.9 698.0,357.4 698.5,356.9 699.9,356.5 700.4,356.0 700.9,355.6 701.4,355.2 701.9,354.9 703.4,354.5 703.8,354.1 704.3,353.8 704.8,353.4 705.3,353.1 706.8,352.7 707.3,352.6 707.8,352.5 708.2,352.5 708.7,352.5 710.2,352.5 710.7,352.5 711.2,352.3 711.7,352.2 712.2,352.2 713.6,352.2 714.1,352.2 714.6,352.2 715.1,352.2 715.6,352.3 717.0,352.3 717.5,352.3 718.0,352.4 718.5,352.4 719.0,352.4 720.5,352.4 721.0,352.2 721.4,352.1 721.9,352.0 722.4,351.9 723.9,351.8 724.4,351.6 724.9,351.3 725.4,351.1 725.8,350.9 727.3,350.7 727.8,350.4 728.3,350.1 729.3,349.9 730.7,349.6 731.2,349.2 731.7,348.9 732.2,348.5 732.7,348.1 734.2,347.6 734.6,347.2 735.1,346.8 735.6,346.5 736.1,346.0 737.6,345.6 738.1,345.1 738.6,344.6 739.0,344.1 739.5,343.7 741.0,343.2 741.5,342.7 742.0,342.2 742.5,341.7 742.9,341.2 744.9,340.6 745.4,340.1 745.9,339.5 746.4,339.0 748.3,338.5 748.8,337.9 749.3,337.4 749.8,336.8 751.3,336.2 751.7,335.6 752.2,334.9 752.7,334.3 753.2,333.8 755.2,333.3 755.7,332.8 756.1,332.3 756.6,331.9 758.1,331.5 758.6,331.1 759.1,330.7 759.6,330.3 760.1,329.8 761.5,329.4 762.0,328.9 762.5,328.5 763.0,328.0 763.5,327.5 764.9,326.9 765.4,326.4 765.9,326.0 766.4,325.5 766.9,325.0 768.4,324.4 768.9,323.8 769.3,323.2 769.8,322.6 770.3,322.0 772.3,321.4 772.8,320.7 773.3,320.0 773.7,319.3 775.2,318.9 775.7,318.4 776.2,317.9 776.7,317.3 777.2,316.7 778.6,316.2 779.1,315.6 779.6,314.9 780.1,314.3 780.6,313.6 782.1,312.9 782.5,312.1 783.0,311.3 783.5,310.5 784.0,309.7 785.5,308.9 786.0,308.1 786.5,307.3 786.9,306.6 787.4,306.0 788.9,305.3 789.4,304.6 789.9,303.9 790.4,303.1 792.3,302.4 792.8,301.7 793.3,301.0 793.8,300.3 794.3,299.7 795.7,299.0 796.2,298.4 796.7,297.7 797.2,297.1 797.7,296.5 799.2,295.8 799.7,295.2 800.1,294.7 800.6,294.2 801.1,293.8 802.6,293.3 803.1,292.7 803.6,292.2 804.0,291.6 804.5,291.1 806.0,290.4 806.5,289.8 807.0,289.1 807.5,288.4 808.0,287.8 809.4,287.2 809.9,286.6 810.4,285.9 810.9,285.3 811.4,284.6 812.8,284.0 813.3,283.3 813.8,282.6 814.3,281.9 814.8,281.3 816.3,280.6 816.8,280.1 817.2,279.7 817.7,279.4 818.2,278.8 820.2,278.2 820.7,277.5 821.2,276.8 821.6,276.0 823.1,275.3 823.6,274.5 824.1,273.7 824.6,272.9 825.1,272.1 826.5,271.4 827.0,270.7 827.5,270.0 828.0,269.2 828.5,268.4 830.0,267.7 830.4,267.0 831.4,266.2 831.9,265.4 833.4,264.5 833.9,263.6 834.4,262.8 834.8,261.9 835.3,261.1 836.8,260.4 837.3,259.7 837.8,259.0 838.8,258.3 840.2,257.7 840.7,257.0 841.2,256.3 841.7,255.5 842.2,254.8 843.6,254.0 844.1,253.3 844.6,252.6 845.1,251.8 845.6,251.0 847.1,250.1 847.6,249.2 848.0,248.2 848.5,247.2 849.0,246.2 850.5,245.1 851.0,243.9 851.5,242.8 852.0,241.6 852.4,240.4 853.9,239.3 854.4,238.3 854.9,237.3 855.4,236.2 855.9,235.1 857.3,233.9 857.8,232.5 858.3,231.2 858.8,229.8 859.3,228.4 860.8,227.1 861.2,225.8 861.7,224.4 862.2,223.1 862.7,221.8 864.2,220.5 864.7,219.2 865.1,217.9 865.6,216.6 866.1,215.4 868.1,214.3 868.6,213.3 869.1,212.3 869.5,211.3 871.0,210.3 871.5,209.2 872.0,208.0 872.5,206.8 873.0,205.6 874.4,204.4 874.9,203.2 875.4,202.1 875.9,201.0 876.4,200.0 877.9,198.9 878.3,197.8 878.8,196.7 879.3,195.7 879.8,194.6 881.3,193.6 881.8,192.6 882.3,191.6 882.7,190.5 883.2,189.5 884.7,188.6 885.2,187.7 885.7,186.7 886.2,185.7 886.7,184.7 888.1,183.6 888.6,182.5 889.1,181.5 889.6,180.4 890.1,179.3 891.5,178.3 892.0,177.3 892.5,176.2 893.0,175.3 893.5,174.3 895.0,173.4 895.5,172.7 895.9,172.0 896.4,171.3 896.9,170.6 898.4,169.9 898.9,169.1 899.4,168.3 899.9,167.4 900.3,166.6 901.8,165.8 902.3,164.9 902.8,164.0 903.3,163.1 903.8,162.2 905.2,161.3 905.7,160.4 906.2,159.5 906.7,158.5 907.2,157.5 908.7,156.5 909.1,155.6 909.6,154.7 910.6,153.9 912.1,153.1 912.6,152.3 913.1,151.5 913.5,150.8 914.0,150.1 915.5,149.5 916.0,149.0 916.5,148.5 917.0,148.0 917.5,147.5 918.9,147.1 919.4,146.7 919.9,146.4 920.4,146.2 920.9,145.9 922.3,145.7 922.8,145.4 923.8,145.1 924.3,144.8 925.8,144.6 926.2,144.4 927.2,144.2 927.7,144.0 929.2,143.8 929.7,143.6 930.2,143.3 931.1,143.0 932.6,142.7 933.1,142.3 933.6,141.9 934.1,141.4 934.6,140.9 936.5,140.4 937.0,139.8 937.5,139.1 938.0,138.4 939.4,137.8 939.9,137.1 940.4,136.3 940.9,135.5 941.4,134.6 942.9,133.9 943.4,133.0 943.8,132.1 944.3,131.3 944.8,130.5 946.3,129.8 946.8,129.1 947.3,128.3 947.8,127.5 948.2,126.9 950.2,126.6 950.7,126.4 951.2,126.4 951.7,126.3 953.1,126.1 953.6,126.0 954.1,125.8 954.6,125.6 955.1,125.3 956.6,125.1 957.0,124.9 957.5,124.8 958.0,124.8 958.5,124.7 960.0,124.5 960.5,124.1 961.0,123.9 961.4,123.7 961.9,123.5 963.4,123.2 963.9,123.1 964.4,123.0 964.9,122.9 965.4,122.8 966.8,122.5 967.3,122.4 967.8,122.2 968.3,122.1 968.8,121.9 970.2,121.5 970.7,121.3 971.2,121.0 971.7,120.8 972.2,120.6 973.7,120.5 974.2,120.4 974.6,120.3 975.1,120.2 975.6,119.9 977.1,119.7 977.6,119.6 978.1,119.6 978.6,119.6 980.5,119.6 981.0,119.7 981.5,119.6 982.0,119.6 982.5,119.5 983.9,119.5 984.4,119.5 984.9,119.5 985.4,119.3 985.9,119.2 987.3,119.1 987.8,119.0 988.3,118.9 988.8,118.9 989.3,118.8 990.8,118.9 991.3,118.9 991.7,118.9 992.2,118.8 992.7,118.7 994.2,118.5 994.7,118.5 995.2,118.4 995.7,118.3 996.1,118.2 998.1,118.1 998.6,118.1 999.1,118.2 999.6,118.4 1001.0,118.6 1001.5,118.9 1002.0,119.2 1002.5,119.4 1003.0,119.6 1004.5,119.8 1004.9,120.0 1005.4,120.3 1005.9,120.5 1006.4,120.9 1007.9,121.2 1008.4,121.5 1008.9,121.9 1009.8,122.1 1011.3,122.4 1011.8,122.6 1012.3,122.8 1012.8,122.9 1013.3,123.1 1014.7,123.4 1015.2,123.7 1015.7,124.0 1016.2,124.4 1018.1,124.8 1018.6,125.2 1019.1,125.7 1019.6,126.0 1020.1,126.4 1021.6,126.8 1022.1,127.1 1022.5,127.5 1023.0,127.9 1023.5,128.4 1025.0,128.8 1025.5,129.1 1026.0,129.3 1026.5,129.6 1026.9,129.8 1028.4,130.0 1028.9,130.2 1029.4,130.4 1029.9,130.7 1030.4,131.0 1031.8,131.5 1032.3,132.1 1032.8,132.8 1033.3,133.5 1033.8,134.1 1035.3,134.7 1035.7,135.3 1036.2,135.8 1036.7,136.3 1037.2,136.8 1038.7,137.2 1039.2,137.5 1039.7,137.6 1040.1,137.7 1040.6,137.8 1042.1,137.9 1042.6,138.1 1043.1,138.3 1043.6,138.5 1044.1,138.8 1046.0,139.1 1046.5,139.4 1047.0,139.8 1047.5,140.3 1048.9,140.7 1049.4,141.1 1049.9,141.7 1050.4,142.2 1050.9,142.8 1052.4,143.5 1052.8,144.2 1053.3,144.9 1053.8,145.6 1054.3,146.3 1055.8,147.0 1056.3,147.5 1056.8,148.1 1057.2,148.7 1057.7,149.3 1059.2,149.7 1059.7,150.1 1060.2,150.6 1060.7,151.0 1061.2,151.4 1062.6,151.8 1063.1,152.2 1063.6,152.6 1064.1,152.9 1064.6,153.5 1066.0,154.0 1066.5,154.4 1067.0,155.0 1067.5,155.5 1068.0,156.0 1069.5,156.4 1070.0,156.8 1070.4,157.3 1070.9,157.7 1071.4,158.2 1072.9,158.6 1073.4,159.2 1073.9,159.9 1074.4,160.7 1074.8,161.5 1076.3,162.4 1076.8,163.2 1077.3,164.2 1077.8,165.1 1078.3,166.0 1079.7,166.9 1080.2,167.9 1080.7,168.8 1081.2,169.8 1081.7,170.9 1083.2,172.0 1083.6,173.1 1084.1,174.2 1084.6,175.3 1085.1,176.3 1086.6,177.3 1087.1,178.2 1087.6,179.2 1088.5,180.3 1090.0,181.3 1090.5,182.3 1091.0,183.0 1091.5,183.6 1092.0,184.0 1093.4,184.5 1093.9,185.0 1094.4,185.5 1094.9,185.9 1095.4,186.4 1096.8,187.0 1097.3,187.5 1097.8,187.9 1098.3,188.4 1098.8,188.9 1100.3,189.3 1100.8,189.9 1101.2,190.6 1102.2,191.2 1103.7,191.7 1104.2,192.3 1104.7,193.0 1105.6,193.6 1107.1,194.3 1107.6,194.9 1108.1,195.6 1108.6,196.4 1109.1,197.1 1110.5,197.9 1111.0,198.6 1111.5,199.5 1112.0,200.4 1112.5,201.3 1114.4,202.3 1114.9,203.2 1115.4,204.0 1115.9,204.6 1117.4,205.3 1117.9,206.1 1118.3,206.9 1118.8,207.8 1119.3,208.6 1120.8,209.3 1121.3,209.4"/>
</g>
<g fill="none" stroke-width="1.39">
<line x1="86.5" y1="317.50" x2="1171.5" y2="317.50" stroke="#ff0000" stroke-opacity="0.7" stroke-dasharray="8.89 2.22 1.39 2.22"/>
<line x1="86.5" y1="28.50" x2="1171.5" y2="28.50" stroke="#008000" stroke-opacity="0.7" stroke-dasharray="8.89 2.22 1.39 2.22"/>
<line x1="1121.5" y1="471.5" x2="1121.5" y2="10.5" stroke="#008000" stroke-opacity="0.7" stroke-dasharray="5.14 2.22"/>
</g>
</g>
<g fill="#bfbfbf" shape-rendering="crispEdges">
<rect x="135" y="603.2" width="1" height="37.3"/>
<rect x="136" y="621.9" width="1" height="18.6"/>
<rect x="137" y="627.2" width="1" height="13.3"/>
<rect x="140" y="604.0" width="1" height="36.5"/>
<rect x="143" y="602.8" width="1" height="37.7"/>
<rect x="145" y="629.7" width="1" height="10.8"/>
<rect x="146" y="618.9" width="1" height="21.6"/>
<rect x="147" y="629.9" width="1" height="10.6"/>
<rect x="149" y="618.4" width="1" height="22.1"/>
<rect x="150" y="591.2" width="1" height="49.3"/>
<rect x="152" y="629.5" width="1" height="11.0"/>
<rect x="153" y="632.9" width="1" height="7.6"/>
<rect x="154" y="623.3" width="1" height="17.2"/>
<rect x="156" y="625.7" width="1" height="14.8"/>
<rect x="157" y="630.6" width="1" height="9.9"/>
<rect x="159" y="632.3" width="1" height="8.2"/>
<rect x="162" y="604.0" width="1" height="36.5"/>
<rect x="166" y="631.8" width="1" height="8.7"/>
<rect x="167" y="557.1" width="1" height="83.4"/>
<rect x="169" y="625.7" width="1" height="14.8"/>
<rect x="170" y="620.0" width="1" height="20.5"/>
<rect x="171" y="620.0" width="1" height="20.5"/>
<rect x="173" y="624.6" width="1" height="15.9"/>
<rect x="174" y="618.1" width="1" height="22.4"/>
<rect x="176" y="610.6" width="1" height="29.9"/>
<rect x="177" y="632.8" width="1" height="7.7"/>
<rect x="178" y="603.7" width="1" height="36.8"/>
<rect x="180" y="628.5" width="1" height="12.0"/>
<rect x="181" y="629.4" width="1" height="11.1"/>
<rect x="186" y="608.0" width="1" height="32.5"/>
<rect x="187" y="620.9" width="1" height="19.6"/>
<rect x="188" y="625.0" width="1" height="15.5"/>
<rect x="190" y="618.5" width="1" height="22.0"/>
<rect x="191" y="620.9" width="1" height="19.6"/>
<rect x="192" y="596.1" width="1" height="44.4"/>
<rect x="193" y="625.7" width="1" height="14.8"/>
<rect x="194" y="626.6" width="1" height="13.9"/>
<rect x="195" y="613.1" width="1" height="27.4"/>
<rect x="197" y="620.2" width="1" height="20.3"/>
<rect x="198" y="620.4" width="1" height="20.1"/>
<rect x="200" y="626.5" width="1" height="14.0"/>
<rect x="201" y="626.6" width="1" height="13.9"/>
<rect x="202" y="620.1" width="1" height="20.4"/>
<rect x="206" y="609.8" width="1" height="30.7"/>
<rect x="208" y="617.5" width="1" height="23.0"/>
<rect x="210" y="627.7" width="1" height="12.8"/>
<rect x="211" y="630.9" width="1" height="9.6"/>
<rect x="214" y="622.8" width="1" height="17.7"/>
<rect x="215" y="634.1" width="1" height="6.4"/>
<rect x="217" y="629.7" width="1" height="10.8"/>
<rect x="218" y="632.5" width="1" height="8.0"/>
<rect x="219" y="631.7" width="1" height="8.8"/>
<rect x="221" y="633.5" width="1" height="7.0"/>
<rect x="222" y="629.7" width="1" height="10.8"/>
<rect x="224" y="626.4" width="1" height="14.1"/>
<rect x="225" y="628.9" width="1" height="11.6"/>
<rect x="228" y="602.8" width="1" height="37.7"/>
<rect x="231" y="630.6" width="1" height="9.9"/>
<rect x="232" y="636.6" width="1" height="3.9"/>
<rect x="235" y="628.9" width="1" height="11.6"/>
<rect x="236" y="634.9" width="1" height="5.6"/>
<rect x="238" y="633.1" width="1" height="7.4"/>
<rect x="239" y="634.1" width="1" height="6.4"/>
<rect x="241" y="635.9" width="1" height="4.6"/>
<rect x="242" y="636.5" width="1" height="4.0"/>
<rect x="243" y="628.2" width="1" height="12.3"/>
<rect x="245" y="621.5" width="1" height="19.0"/>
<rect x="246" y="628.0" width="1" height="12.5"/>
<rect x="252" y="634.1" width="1" height="6.4"/>
<rect x="253" y="635.1" width="1" height="5.4"/>
<rect x="255" y="634.5" width="1" height="6.0"/>
<rect x="256" y="632.3" width="1" height="8.2"/>
<rect x="258" y="627.6" width="1" height="12.9"/>
<rect x="259" y="632.5" width="1" height="8.0"/>
<rect x="260" y="629.7" width="1" height="10.8"/>
<rect x="262" y="629.3" width="1" height="11.2"/>
<rect x="263" y="618.4" width="1" height="22.1"/>
<rect x="265" y="626.4" width="1" height="14.1"/>
<rect x="266" y="637.0" width="1" height="3.5"/>
<rect x="267" y="629.2" width="1" height="11.3"/>
<rect x="275" y="628.6" width="1" height="11.9"/>
<rect x="276" y="636.9" width="1" height="3.6"/>
<rect x="277" y="636.5" width="1" height="4.0"/>
<rect x="279" y="633.9" width="1" height="6.6"/>
<rect x="280" y="631.7" width="1" height="8.8"/>
<rect x="282" y="634.2" width="1" height="6.3"/>
<rect x="283" y="636.0" width="1" height="4.5"/>
<rect x="284" y="630.6" width="1" height="9.9"/>
<rect x="286" y="633.9" width="1" height="6.6"/>
<rect x="287" y="634.7" width="1" height="5.8"/>
<rect x="289" y="632.9" width="1" height="7.6"/>
<rect x="290" y="630.8" width="1" height="9.7"/>
<rect x="296" y="633.3" width="1" height="7.2"/>
<rect x="297" y="633.5" width="1" height="7.0"/>
<rect x="299" y="629.1" width="1" height="11.4"/>
<rect x="300" y="631.7" width="1" height="8.8"/>
<rect x="301" y="628.2" width="1" height="12.3"/>
<rect x="303" y="634.2" width="1" height="6.3"/>
<rect x="304" y="632.1" width="1" height="8.4"/>
<rect x="306" y="637.4" width="1" height="3.1"/>
<rect x="307" y="633.0" width="1" height="7.5"/>
<rect x="308" y="636.1" width="1" height="4.4"/>
<rect x="310" y="634.7" width="1" height="5.8"/>
<rect x="311" y="636.5" width="1" height="4.0"/>
<rect x="317" y="632.9" width="1" height="7.6"/>
<rect x="318" y="627.1" width="1" height="13.4"/>
<rect x="320" y="637.0" width="1" height="3.5"/>
<rect x="321" y="625.6" width="1" height="14.9"/>
<rect x="323" y="634.2" width="1" height="6.3"/>
<rect x="324" y="634.2" width="1" height="6.3"/>
<rect x="325" y="632.6" width="1" height="7.9"/>
<rect x="327" y="630.4" width="1" height="10.1"/>
<rect x="328" y="629.9" width="1" height="10.6"/>
<rect x="330" y="634.1" width="1" height="6.4"/>
<rect x="331" y="637.7" width="1" height="2.8"/>
<rect x="332" y="634.1" width="1" height="6.4"/>
<rect x="334" y="637.3" width="1" height="3.2"/>
<rect x="340" y="629.4" width="1" height="11.1"/>
<rect x="341" y="624.7" width="1" height="15.8"/>
<rect x="342" y="633.0" width="1" height="7.5"/>
<rect x="344" y="620.0" width="1" height="20.5"/>
<rect x="345" y="614.5" width="1" height="26.0"/>
<rect x="347" y="629.5" width="1" height="11.0"/>
<rect x="348" y="635.8" width="1" height="4.7"/>
<rect x="349" y="626.0" width="1" height="14.5"/>
<rect x="351" y="631.0" width="1" height="9.5"/>
<rect x="352" y="634.8" width="1" height="5.7"/>
<rect x="354" y="632.9" width="1" height="7.6"/>
<rect x="355" y="622.1" width="1" height="18.4"/>
<rect x="356" y="633.5" width="1" height="7.0"/>
<rect x="361" y="628.5" width="1" height="12.0"/>
<rect x="362" y="633.9" width="1" height="6.6"/>
<rect x="364" y="629.6" width="1" height="10.9"/>
<rect x="365" y="621.7" width="1" height="18.8"/>
<rect x="366" y="630.2" width="1" height="10.3"/>
<rect x="368" y="627.7" width="1" height="12.8"/>
<rect x="369" y="634.1" width="1" height="6.4"/>
<rect x="371" y="634.2" width="1" height="6.3"/>
<rect x="372" y="634.2" width="1" height="6.3"/>
<rect x="373" y="628.9" width="1" height="11.6"/>
<rect x="375" y="614.1" width="1" height="26.4"/>
<rect x="376" y="633.9" width="1" height="6.6"/>
<rect x="383" y="635.9" width="1" height="4.6"/>
<rect x="385" y="627.2" width="1" height="13.3"/>
<rect x="386" y="627.2" width="1" height="13.3"/>
<rect x="388" y="628.6" width="1" height="11.9"/>
<rect x="389" y="623.5" width="1" height="17.0"/>
<rect x="392" y="626.1" width="1" height="14.4"/>
<rect x="393" y="631.3" width="1" height="9.2"/>
<rect x="395" y="624.2" width="1" height="16.3"/>
<rect x="396" y="635.7" width="1" height="4.8"/>
<rect x="397" y="634.1" width="1" height="6.4"/>
<rect x="399" y="626.9" width="1" height="13.6"/>
<rect x="405" y="628.2" width="1" height="12.3"/>
<rect x="406" y="632.3" width="1" height="8.2"/>
<rect x="407" y="634.2" width="1" height="6.3"/>
<rect x="409" y="629.1" width="1" height="11.4"/>
<rect x="410" y="628.9" width="1" height="11.6"/>
<rect x="412" y="623.5" width="1" height="17.0"/>
<rect x="413" y="629.9" width="1" height="10.6"/>
<rect x="414" y="622.3" width="1" height="18.2"/>
<rect x="416" y="628.5" width="1" height="12.0"/>
<rect x="417" y="617.6" width="1" height="22.9"/>
<rect x="419" y="629.2" width="1" height="11.3"/>
<rect x="420" y="634.4" width="1" height="6.1"/>
<rect x="421" y="628.3" width="1" height="12.2"/>
<rect x="427" y="634.8" width="1" height="5.7"/>
<rect x="429" y="624.1" width="1" height="16.4"/>
<rect x="430" y="631.9" width="1" height="8.6"/>
<rect x="431" y="637.3" width="1" height="3.2"/>
<rect x="433" y="634.3" width="1" height="6.2"/>
<rect x="434" y="632.1" width="1" height="8.4"/>
<rect x="436" y="630.2" width="1" height="10.3"/>
<rect x="437" y="628.4" width="1" height="12.1"/>
<rect x="438" y="630.0" width="1" height="10.5"/>
<rect x="440" y="621.3" width="1" height="19.2"/>
<rect x="441" y="623.8" width="1" height="16.7"/>
<rect x="443" y="623.2" width="1" height="17.3"/>
<rect x="448" y="629.0" width="1" height="11.5"/>
<rect x="450" y="625.5" width="1" height="15.0"/>
<rect x="451" y="618.6" width="1" height="21.9"/>
<rect x="453" y="594.2" width="1" height="46.3"/>
<rect x="454" y="627.6" width="1" height="12.9"/>
<rect x="455" y="604.0" width="1" height="36.5"/>
<rect x="457" y="612.1" width="1" height="28.4"/>
<rect x="458" y="634.2" width="1" height="6.3"/>
<rect x="460" y="614.8" width="1" height="25.7"/>
<rect x="461" y="620.8" width="1" height="19.7"/>
<rect x="462" y="625.1" width="1" height="15.4"/>
<rect x="464" y="608.2" width="1" height="32.3"/>
<rect x="465" y="615.6" width="1" height="24.9"/>
<rect x="470" y="614.4" width="1" height="26.1"/>
<rect x="471" y="606.5" width="1" height="34.0"/>
<rect x="472" y="626.3" width="1" height="14.2"/>
<rect x="474" y="543.5" width="1" height="97.0"/>
<rect x="475" y="604.0" width="1" height="36.5"/>
<rect x="477" y="621.1" width="1" height="19.4"/>
<rect x="478" y="623.2" width="1" height="17.3"/>
<rect x="479" y="624.7" width="1" height="15.8"/>
<rect x="481" y="622.8" width="1" height="17.7"/>
<rect x="482" y="621.2" width="1" height="19.3"/>
<rect x="484" y="617.3" width="1" height="23.2"/>
<rect x="485" y="627.6" width="1" height="12.9"/>
<rect x="486" y="619.6" width="1" height="20.9"/>
<rect x="492" y="632.3" width="1" height="8.2"/>
<rect x="494" y="634.1" width="1" height="6.4"/>
<rect x="495" y="620.8" width="1" height="19.7"/>
<rect x="496" y="633.1" width="1" height="7.4"/>
<rect x="498" y="634.5" width="1" height="6.0"/>
<rect x="499" y="619.5" width="1" height="21.0"/>
<rect x="501" y="634.0" width="1" height="6.5"/>
<rect x="502" y="634.1" width="1" height="6.4"/>
<rect x="503" y="634.8" width="1" height="5.7"/>
<rect x="505" y="633.2" width="1" height="7.3"/>
<rect x="506" y="628.9" width="1" height="11.6"/>
<rect x="508" y="622.6" width="1" height="17.9"/>
<rect x="515" y="622.3" width="1" height="18.2"/>
<rect x="516" y="634.2" width="1" height="6.3"/>
<rect x="518" y="632.5" width="1" height="8.0"/>
<rect x="519" y="625.3" width="1" height="15.2"/>
<rect x="520" y="636.2" width="1" height="4.3"/>
<rect x="522" y="631.2" width="1" height="9.3"/>
<rect x="523" y="628.3" width="1" height="12.2"/>
<rect x="525" y="626.3" width="1" height="14.2"/>
<rect x="526" y="630.2" width="1" height="10.3"/>
<rect x="527" y="634.4" width="1" height="6.1"/>
<rect x="529" y="627.6" width="1" height="12.9"/>
<rect x="530" y="634.4" width="1" height="6.1"/>
<rect x="536" y="627.1" width="1" height="13.4"/>
<rect x="537" y="627.4" width="1" height="13.1"/>
<rect x="539" y="626.6" width="1" height="13.9"/>
<rect x="540" y="622.8" width="1" height="17.7"/>
<rect x="542" y="632.6" width="1" height="7.9"/>
<rect x="543" y="623.0" width="1" height="17.5"/>
<rect x="544" y="633.2" width="1" height="7.3"/>
<rect x="546" y="632.5" width="1" height="8.0"/>
<rect x="547" y="625.6" width="1" height="14.9"/>
<rect x="549" y="629.0" width="1" height="11.5"/>
<rect x="550" y="623.8" width="1" height="16.7"/>
<rect x="551" y="619.9" width="1" height="20.6"/>
<rect x="557" y="628.9" width="1" height="11.6"/>
<rect x="559" y="631.6" width="1" height="8.9"/>
<rect x="560" y="634.5" width="1" height="6.0"/>
<rect x="561" y="636.0" width="1" height="4.5"/>
<rect x="563" y="634.6" width="1" height="5.9"/>
<rect x="564" y="621.9" width="1" height="18.6"/>
<rect x="567" y="629.4" width="1" height="11.1"/>
<rect x="568" y="631.4" width="1" height="9.1"/>
<rect x="570" y="625.2" width="1" height="15.3"/>
<rect x="571" y="627.3" width="1" height="13.2"/>
<rect x="573" y="631.0" width="1" height="9.5"/>
<rect x="574" y="629.7" width="1" height="10.8"/>
<rect x="580" y="628.6" width="1" height="11.9"/>
<rect x="581" y="621.7" width="1" height="18.8"/>
<rect x="583" y="630.8" width="1" height="9.7"/>
<rect x="584" y="631.1" width="1" height="9.4"/>
<rect x="585" y="634.2" width="1" height="6.3"/>
<rect x="587" y="635.1" width="1" height="5.4"/>
<rect x="588" y="624.8" width="1" height="15.7"/>
<rect x="590" y="625.7" width="1" height="14.8"/>
<rect x="591" y="633.7" width="1" height="6.8"/>
<rect x="592" y="627.6" width="1" height="12.9"/>
<rect x="594" y="628.8" width="1" height="11.7"/>
<rect x="595" y="627.3" width="1" height="13.2"/>
<rect x="596" y="594.2" width="1" height="46.3"/>
<rect x="601" y="632.8" width="1" height="7.7"/>
<rect x="602" y="636.9" width="1" height="3.6"/>
<rect x="604" y="634.2" width="1" height="6.3"/>
<rect x="605" y="628.8" width="1" height="11.7"/>
<rect x="607" y="634.9" width="1" height="5.6"/>
<rect x="608" y="630.0" width="1" height="10.5"/>
<rect x="609" y="635.4" width="1" height="5.1"/>
<rect x="611" y="629.5" width="1" height="11.0"/>
<rect x="612" y="630.1" width="1" height="10.4"/>
<rect x="614" y="636.0" width="1" height="4.5"/>
<rect x="615" y="634.2" width="1" height="6.3"/>
<rect x="618" y="633.1" width="1" height="7.4"/>
<rect x="624" y="633.1" width="1" height="7.4"/>
<rect x="625" y="632.3" width="1" height="8.2"/>
<rect x="626" y="634.6" width="1" height="5.9"/>
<rect x="628" y="633.9" width="1" height="6.6"/>
<rect x="629" y="635.5" width="1" height="5.0"/>
<rect x="631" y="632.5" width="1" height="8.0"/>
<rect x="632" y="627.9" width="1" height="12.6"/>
<rect x="633" y="635.8" width="1" height="4.7"/>
<rect x="635" y="627.7" width="1" height="12.8"/>
<rect x="636" y="622.0" width="1" height="18.5"/>
<rect x="638" y="622.9" width="1" height="17.6"/>
<rect x="639" y="633.7" width="1" height="6.8"/>
<rect x="645" y="621.2" width="1" height="19.3"/>
<rect x="646" y="632.4" width="1" height="8.1"/>
<rect x="648" y="630.0" width="1" height="10.5"/>
<rect x="649" y="634.8" width="1" height="5.7"/>
<rect x="650" y="622.6" width="1" height="17.9"/>
<rect x="652" y="630.9" width="1" height="9.6"/>
<rect x="653" y="634.9" width="1" height="5.6"/>
<rect x="655" y="626.4" width="1" height="14.1"/>
<rect x="656" y="624.6" width="1" height="15.9"/>
<rect x="657" y="633.0" width="1" height="7.5"/>
<rect x="660" y="629.8" width="1" height="10.7"/>
<rect x="667" y="615.3" width="1" height="25.2"/>
<rect x="669" y="631.6" width="1" height="8.9"/>
<rect x="670" y="634.1" width="1" height="6.4"/>
<rect x="672" y="631.6" width="1" height="8.9"/>
<rect x="673" y="632.5" width="1" height="8.0"/>
<rect x="674" y="632.8" width="1" height="7.7"/>
<rect x="676" y="629.2" width="1" height="11.3"/>
<rect x="677" y="633.7" width="1" height="6.8"/>
<rect x="679" y="620.1" width="1" height="20.4"/>
<rect x="680" y="633.7" width="1" height="6.8"/>
<rect x="681" y="629.4" width="1" height="11.1"/>
<rect x="683" y="630.6" width="1" height="9.9"/>
<rect x="690" y="609.8" width="1" height="30.7"/>
<rect x="691" y="632.2" width="1" height="8.3"/>
<rect x="693" y="628.5" width="1" height="12.0"/>
<rect x="694" y="630.7" width="1" height="9.8"/>
<rect x="696" y="627.4" width="1" height="13.1"/>
<rect x="697" y="625.3" width="1" height="15.2"/>
<rect x="698" y="628.6" width="1" height="11.9"/>
<rect x="700" y="621.2" width="1" height="19.3"/>
<rect x="701" y="627.9" width="1" height="12.6"/>
<rect x="703" y="623.9" width="1" height="16.6"/>
<rect x="704" y="632.0" width="1" height="8.5"/>
<rect x="705" y="621.8" width="1" height="18.7"/>
<rect x="708" y="582.5" width="1" height="58.0"/>
<rect x="710" y="622.7" width="1" height="17.8"/>
<rect x="711" y="618.3" width="1" height="22.2"/>
<rect x="713" y="626.5" width="1" height="14.0"/>
<rect x="714" y="613.1" width="1" height="27.4"/>
<rect x="715" y="622.1" width="1" height="18.4"/>
<rect x="717" y="628.8" width="1" height="11.7"/>
<rect x="718" y="633.0" width="1" height="7.5"/>
<rect x="720" y="624.5" width="1" height="16.0"/>
<rect x="721" y="574.7" width="1" height="65.8"/>
<rect x="722" y="630.9" width="1" height="9.6"/>
<rect x="724" y="622.7" width="1" height="17.8"/>
<rect x="725" y="625.3" width="1" height="15.2"/>
<rect x="727" y="626.2" width="1" height="14.3"/>
<rect x="732" y="631.0" width="1" height="9.5"/>
<rect x="734" y="616.0" width="1" height="24.5"/>
<rect x="735" y="634.8" width="1" height="5.7"/>
<rect x="737" y="613.5" width="1" height="27.0"/>
<rect x="738" y="627.7" width="1" height="12.8"/>
<rect x="739" y="631.5" width="1" height="9.0"/>
<rect x="741" y="629.9" width="1" height="10.6"/>
<rect x="742" y="628.0" width="1" height="12.5"/>
<rect x="745" y="614.7" width="1" height="25.8"/>
<rect x="746" y="631.7" width="1" height="8.8"/>
<rect x="748" y="628.0" width="1" height="12.5"/>
<rect x="755" y="632.7" width="1" height="7.8"/>
<rect x="756" y="631.8" width="1" height="8.7"/>
<rect x="758" y="622.1" width="1" height="18.4"/>
<rect x="759" y="633.5" width="1" height="7.0"/>
<rect x="761" y="623.6" width="1" height="16.9"/>
<rect x="762" y="629.1" width="1" height="11.4"/>
<rect x="763" y="620.5" width="1" height="20.0"/>
<rect x="765" y="633.3" width="1" height="7.2"/>
<rect x="766" y="628.0" width="1" height="12.5"/>
<rect x="768" y="605.9" width="1" height="34.6"/>
<rect x="769" y="588.4" width="1" height="52.1"/>
<rect x="770" y="632.6" width="1" height="7.9"/>
<rect x="776" y="631.1" width="1" height="9.4"/>
<rect x="778" y="626.6" width="1" height="13.9"/>
<rect x="779" y="631.6" width="1" height="8.9"/>
<rect x="780" y="629.1" width="1" height="11.4"/>
<rect x="782" y="624.5" width="1" height="16.0"/>
<rect x="783" y="626.3" width="1" height="14.2"/>
<rect x="785" y="630.7" width="1" height="9.8"/>
<rect x="786" y="631.8" width="1" height="8.7"/>
<rect x="787" y="631.2" width="1" height="9.3"/>
<rect x="789" y="617.8" width="1" height="22.7"/>
<rect x="790" y="631.8" width="1" height="8.7"/>
<rect x="792" y="633.3" width="1" height="7.2"/>
<rect x="797" y="633.3" width="1" height="7.2"/>
<rect x="799" y="624.7" width="1" height="15.8"/>
<rect x="800" y="633.8" width="1" height="6.7"/>
<rect x="802" y="630.4" width="1" height="10.1"/>
<rect x="803" y="625.0" width="1" height="15.5"/>
<rect x="804" y="624.5" width="1" height="16.0"/>
<rect x="806" y="626.8" width="1" height="13.7"/>
<rect x="807" y="612.9" width="1" height="27.6"/>
<rect x="809" y="631.1" width="1" height="9.4"/>
<rect x="810" y="632.7" width="1" height="7.8"/>
<rect x="811" y="625.0" width="1" height="15.5"/>
<rect x="813" y="632.5" width="1" height="8.0"/>
<rect x="814" y="627.5" width="1" height="13.0"/>
<rect x="820" y="629.9" width="1" height="10.6"/>
<rect x="821" y="634.6" width="1" height="5.9"/>
<rect x="823" y="627.3" width="1" height="13.2"/>
<rect x="824" y="633.6" width="1" height="6.9"/>
<rect x="826" y="634.9" width="1" height="5.6"/>
<rect x="827" y="629.5" width="1" height="11.0"/>
<rect x="828" y="630.6" width="1" height="9.9"/>
<rect x="830" y="625.2" width="1" height="15.3"/>
<rect x="831" y="625.6" width="1" height="14.9"/>
<rect x="832" y="613.7" width="1" height="26.8"/>
<rect x="833" y="632.3" width="1" height="8.2"/>
<rect x="834" y="628.1" width="1" height="12.4"/>
<rect x="835" y="622.9" width="1" height="17.6"/>
<rect x="841" y="633.6" width="1" height="6.9"/>
<rect x="843" y="628.7" width="1" height="11.8"/>
<rect x="844" y="633.5" width="1" height="7.0"/>
<rect x="845" y="626.9" width="1" height="13.6"/>
<rect x="847" y="625.5" width="1" height="15.0"/>
<rect x="848" y="627.8" width="1" height="12.7"/>
<rect x="850" y="633.8" width="1" height="6.7"/>
<rect x="851" y="629.6" width="1" height="10.9"/>
<rect x="852" y="634.0" width="1" height="6.5"/>
<rect x="854" y="630.9" width="1" height="9.6"/>
<rect x="855" y="633.0" width="1" height="7.5"/>
<rect x="857" y="624.6" width="1" height="15.9"/>
<rect x="858" y="624.9" width="1" height="15.6"/>
<rect x="864" y="631.2" width="1" height="9.3"/>
<rect x="865" y="627.8" width="1" height="12.7"/>
<rect x="868" y="631.0" width="1" height="9.5"/>
<rect x="869" y="616.6" width="1" height="23.9"/>
<rect x="871" y="630.2" width="1" height="10.3"/>
<rect x="872" y="628.5" width="1" height="12.0"/>
<rect x="874" y="633.6" width="1" height="6.9"/>
<rect x="875" y="633.8" width="1" height="6.7"/>
<rect x="876" y="636.2" width="1" height="4.3"/>
<rect x="878" y="632.3" width="1" height="8.2"/>
<rect x="879" y="635.7" width="1" height="4.8"/>
<rect x="885" y="633.6" width="1" height="6.9"/>
<rect x="886" y="633.2" width="1" height="7.3"/>
<rect x="888" y="628.9" width="1" height="11.6"/>
<rect x="889" y="635.3" width="1" height="5.2"/>
<rect x="891" y="629.7" width="1" height="10.8"/>
<rect x="892" y="637.7" width="1" height="2.8"/>
<rect x="893" y="632.5" width="1" height="8.0"/>
<rect x="895" y="605.9" width="1" height="34.6"/>
<rect x="896" y="631.7" width="1" height="8.8"/>
<rect x="898" y="631.7" width="1" height="8.8"/>
<rect x="899" y="628.7" width="1" height="11.8"/>
<rect x="900" y="634.8" width="1" height="5.7"/>
<rect x="908" y="626.8" width="1" height="13.7"/>
<rect x="909" y="628.6" width="1" height="11.9"/>
<rect x="910" y="627.0" width="1" height="13.5"/>
<rect x="912" y="621.3" width="1" height="19.2"/>
<rect x="913" y="632.4" width="1" height="8.1"/>
<rect x="915" y="622.2" width="1" height="18.3"/>
<rect x="916" y="637.3" width="1" height="3.2"/>
<rect x="917" y="638.5" width="1" height="2.0"/>
<rect x="919" y="630.9" width="1" height="9.6"/>
<rect x="920" y="631.7" width="1" height="8.8"/>
<rect x="922" y="632.2" width="1" height="8.3"/>
<rect x="929" y="631.5" width="1" height="9.0"/>
<rect x="932" y="635.1" width="1" height="5.4"/>
<rect x="933" y="632.5" width="1" height="8.0"/>
<rect x="934" y="629.3" width="1" height="11.2"/>
<rect x="936" y="633.8" width="1" height="6.7"/>
<rect x="937" y="629.6" width="1" height="10.9"/>
<rect x="939" y="629.2" width="1" height="11.3"/>
<rect x="940" y="632.6" width="1" height="7.9"/>
<rect x="941" y="634.7" width="1" height="5.8"/>
<rect x="943" y="623.7" width="1" height="16.8"/>
<rect x="944" y="632.6" width="1" height="7.9"/>
<rect x="948" y="520.1" width="1" height="120.4"/>
<rect x="950" y="618.7" width="1" height="21.8"/>
<rect x="951" y="621.5" width="1" height="19.0"/>
<rect x="953" y="611.7" width="1" height="28.8"/>
<rect x="954" y="614.7" width="1" height="25.8"/>
<rect x="956" y="594.2" width="1" height="46.3"/>
<rect x="957" y="595.0" width="1" height="45.5"/>
<rect x="958" y="586.4" width="1" height="54.1"/>
<rect x="959" y="596.1" width="1" height="44.4"/>
<rect x="960" y="602.0" width="1" height="38.5"/>
<rect x="961" y="615.1" width="1" height="25.4"/>
<rect x="963" y="616.0" width="1" height="24.5"/>
<rect x="964" y="617.1" width="1" height="23.4"/>
<rect x="965" y="616.9" width="1" height="23.6"/>
<rect x="967" y="616.3" width="1" height="24.2"/>
<rect x="973" y="628.1" width="1" height="12.4"/>
<rect x="974" y="628.3" width="1" height="12.2"/>
<rect x="975" y="625.6" width="1" height="14.9"/>
<rect x="977" y="623.6" width="1" height="16.9"/>
<rect x="978" y="610.6" width="1" height="29.9"/>
<rect x="980" y="626.5" width="1" height="14.0"/>
<rect x="981" y="629.6" width="1" height="10.9"/>
<rect x="982" y="633.0" width="1" height="7.5"/>
<rect x="984" y="634.1" width="1" height="6.4"/>
<rect x="985" y="632.6" width="1" height="7.9"/>
<rect x="987" y="617.4" width="1" height="23.1"/>
<rect x="988" y="634.3" width="1" height="6.2"/>
<rect x="990" y="613.7" width="1" height="26.8"/>
<rect x="994" y="624.6" width="1" height="15.9"/>
<rect x="995" y="630.7" width="1" height="9.8"/>
<rect x="998" y="624.4" width="1" height="16.1"/>
<rect x="999" y="630.1" width="1" height="10.4"/>
<rect x="1001" y="634.0" width="1" height="6.5"/>
<rect x="1002" y="627.3" width="1" height="13.2"/>
<rect x="1004" y="631.8" width="1" height="8.7"/>
<rect x="1005" y="628.6" width="1" height="11.9"/>
<rect x="1006" y="628.4" width="1" height="12.1"/>
<rect x="1008" y="626.8" width="1" height="13.7"/>
<rect x="1018" y="629.6" width="1" height="10.9"/>
<rect x="1019" y="631.5" width="1" height="9.0"/>
<rect x="1021" y="621.0" width="1" height="19.5"/>
<rect x="1022" y="632.4" width="1" height="8.1"/>
<rect x="1023" y="618.0" width="1" height="22.5"/>
<rect x="1025" y="632.0" width="1" height="8.5"/>
<rect x="1026" y="628.0" width="1" height="12.5"/>
<rect x="1028" y="635.6" width="1" height="4.9"/>
<rect x="1029" y="631.4" width="1" height="9.1"/>
<rect x="1030" y="632.1" width="1" height="8.4"/>
<rect x="1032" y="619.0" width="1" height="21.5"/>
<rect x="1038" y="636.0" width="1" height="4.5"/>
<rect x="1039" y="627.4" width="1" height="13.1"/>
<rect x="1040" y="632.1" width="1" height="8.4"/>
<rect x="1042" y="625.7" width="1" height="14.8"/>
<rect x="1043" y="624.2" width="1" height="16.3"/>
<rect x="1046" y="623.8" width="1" height="16.7"/>
<rect x="1047" y="628.1" width="1" height="12.4"/>
<rect x="1049" y="635.0" width="1" height="5.5"/>
<rect x="1050" y="631.9" width="1" height="8.6"/>
<rect x="1052" y="636.0" width="1" height="4.5"/>
<rect x="1053" y="634.9" width="1" height="5.6"/>
<rect x="1054" y="621.4" width="1" height="19.1"/>
<rect x="1059" y="631.9" width="1" height="8.6"/>
<rect x="1060" y="626.4" width="1" height="14.1"/>
<rect x="1062" y="632.5" width="1" height="8.0"/>
<rect x="1063" y="628.6" width="1" height="11.9"/>
<rect x="1064" y="624.6" width="1" height="15.9"/>
<rect x="1066" y="629.9" width="1" height="10.6"/>
<rect x="1067" y="625.7" width="1" height="14.8"/>
<rect x="1069" y="627.8" width="1" height="12.7"/>
<rect x="1070" y="631.6" width="1" height="8.9"/>
<rect x="1071" y="632.2" width="1" height="8.3"/>
<rect x="1073" y="629.6" width="1" height="10.9"/>
<rect x="1074" y="618.0" width="1" height="22.5"/>
<rect x="1075" y="594.2" width="1" height="46.3"/>
<rect x="1076" y="625.7" width="1" height="14.8"/>
<rect x="1079" y="611.8" width="1" height="28.8"/>
<rect x="1081" y="631.0" width="1" height="9.5"/>
<rect x="1083" y="615.6" width="1" height="24.9"/>
<rect x="1084" y="630.3" width="1" height="10.2"/>
<rect x="1086" y="633.9" width="1" height="6.6"/>
<rect x="1087" y="626.3" width="1" height="14.2"/>
<rect x="1088" y="627.7" width="1" height="12.8"/>
<rect x="1090" y="624.5" width="1" height="16.0"/>
<rect x="1091" y="630.3" width="1" height="10.2"/>
<rect x="1093" y="634.1" width="1" height="6.4"/>
<rect x="1094" y="632.4" width="1" height="8.1"/>
<rect x="1095" y="615.6" width="1" height="24.9"/>
<rect x="1097" y="625.6" width="1" height="14.9"/>
<rect x="1098" y="632.9" width="1" height="7.6"/>
<rect x="1103" y="628.4" width="1" height="12.1"/>
<rect x="1104" y="633.3" width="1" height="7.2"/>
<rect x="1105" y="618.8" width="1" height="21.7"/>
<rect x="1107" y="622.7" width="1" height="17.8"/>
<rect x="1108" y="629.1" width="1" height="11.4"/>
<rect x="1110" y="626.1" width="1" height="14.4"/>
<rect x="1111" y="598.9" width="1" height="41.6"/>
<rect x="1112" y="631.1" width="1" height="9.4"/>
<rect x="1114" y="629.2" width="1" height="11.3"/>
<rect x="1115" y="633.5" width="1" height="7.0"/>
<rect x="1117" y="631.8" width="1" height="8.7"/>
<rect x="1118" y="630.8" width="1" height="9.7"/>
<rect x="1119" y="632.1" width="1" height="8.4"/>
<rect x="1121" y="550.5" width="1" height="90.0"/>
</g>
<g fill="none" stroke="#000" stroke-width="1.11" stroke-linejoin="miter">
<rect x="86.5" y="10.5" width="1085.0" height="461.0"/>
<rect x="86.5" y="486.5" width="1085.0" height="154.0"/>
<line x1="213.5" y1="471.5" x2="213.5" y2="476.4"/>
<line x1="213.5" y1="640.5" x2="213.5" y2="645.4"/>
<line x1="391.5" y1="471.5" x2="391.5" y2="476.4"/>
<line x1="391.5" y1="640.5" x2="391.5" y2="645.4"/>
<line x1="569.5" y1="471.5" x2="569.5" y2="476.4"/>
<line x1="569.5" y1="640.5" x2="569.5" y2="645.4"/>
<line x1="748.5" y1="471.5" x2="748.5" y2="476.4"/>
<line x1="748.5" y1="640.5" x2="748.5" y2="645.4"/>
<line x1="927.5" y1="471.5" x2="927.5" y2="476.4"/>
<line x1="927.5" y1="640.5" x2="927.5" y2="645.4"/>
<line x1="1105.5" y1="471.5" x2="1105.5" y2="476.4"/>
<line x1="1105.5" y1="640.5" x2="1105.5" y2="645.4"/>
<line x1="81.6" y1="470.5" x2="86.5" y2="470.5"/>
<line x1="81.6" y1="395.5" x2="86.5" y2="395.5"/>
<line x1="81.6" y1="321.5" x2="86.5" y2="321.5"/>
<line x1="81.6" y1="246.5" x2="86.5" y2="246.5"/>
<line x1="81.6" y1="171.5" x2="86.5" y2="171.5"/>
<line x1="81.6" y1="96.5" x2="86.5" y2="96.5"/>
<line x1="81.6" y1="21.5" x2="86.5" y2="21.5"/>
<line x1="81.6" y1="640.5" x2="86.5" y2="640.5"/>
<line x1="81.6" y1="601.5" x2="86.5" y2="601.5"/>
<line x1="81.6" y1="562.5" x2="86.5" y2="562.5"/>
<line x1="81.6" y1="523.5" x2="86.5" y2="523.5"/>
</g>
<g font-size="13.5px">
<text x="75.2" y="474.2" text-anchor="end">60</text>
<text x="75.2" y="399.2" text-anchor="end">80</text>
<text x="75.2" y="325.2" text-anchor="end">100</text>
<text x="75.2" y="250.2" text-anchor="end">120</text>
<text x="75.2" y="175.2" text-anchor="end">140</text>
<text x="75.2" y="100.2" text-anchor="end">160</text>
<text x="75.2" y="26.0" text-anchor="end">180</text>
<text x="75.2" y="644.1" text-anchor="end">0</text>
<text x="75.2" y="605.1" text-anchor="end">100000</text>
<text x="75.2" y="566.1" text-anchor="end">200000</text>
<text x="75.2" y="527.1" text-anchor="end">300000</text>
<text x="212.6" y="658.8" text-anchor="middle">2021-01</text>
<text x="390.6" y="658.8" text-anchor="middle">2022-01</text>
<text x="568.6" y="658.8" text-anchor="middle">2023-01</text>
<text x="747.6" y="658.8" text-anchor="middle">2024-01</text>
<text x="926.6" y="658.8" text-anchor="middle">2025-01</text>
<text x="1104.6" y="658.8" text-anchor="middle">2026-01</text>
<text transform="translate(17.6,565.2) rotate(-90)" text-anchor="middle">Volume</text>
</g>
<rect x="93.4" y="17.5" width="108" height="118.2" rx="2.8" fill="#fff" fill-opacity="0.8" stroke="#ccc" stroke-opacity="0.8" stroke-width="1.39"/>
<g stroke-width="2.08" fill="none">
<line x1="97.2" y1="26.9" x2="127" y2="26.9" stroke="#000"/>
<line x1="97.2" y1="46.9" x2="127" y2="46.9" stroke="#008000"/>
<line x1="97.2" y1="67.9" x2="127" y2="67.9" stroke="#ff0000"/>
<line x1="97.2" y1="87.6" x2="127" y2="87.6" stroke="#800080"/>
</g>
<polygon points="112.3,96.2 102.5,115.8 122.1,115.8" fill="#008000" stroke="#008000" stroke-width="0.75" stroke-linejoin="miter"/>
<polygon points="112.3,135.2 102.5,115.6 122.1,115.6" fill="#ff0000" stroke="#ff0000" stroke-width="0.75" stroke-linejoin="miter"/>
<g font-size="13.89px">
<text x="138.0" y="32.2">Close</text>
<text x="136.9" y="51.9">MA50[买]</text>
<text x="136.9" y="72.5">MA25[卖]</text>
<text x="136.9" y="92.2">MA200</text>
<text x="136.9" y="109.7">Buy</text>
<text x="138.0" y="129.2">Sell</text>
</g>
<rect x="957.5" y="345.5" width="196.4" height="107.1" rx="4.2" fill="#fff" fill-opacity="0.9" stroke="#008000" stroke-width="1.39"/>
<g font-size="15.16px" text-anchor="end" style="fill:#008000">
<text x="1149.0" y="361.5" style="fill:#008000">134.79 (+23.63 +21.26%)</text>
<text x="1149.0" y="377.8" style="fill:#008000">101.06~178.32</text>
<text x="1149.0" y="393.5" style="fill:#008000">110.27/114.12/129.84</text>
<text x="1149.0" y="409.3" style="fill:#008000">2026-02-03 05:00</text>
<text x="1149.0" y="427.6" style="fill:#008000">+10.16/偏多/+1.29/+9.58</text>
<text x="1149.0" y="444.9" style="fill:#008000">连涨6天 +27.56%</text>
</g>
<g font-size="16.67px" xml:space="preserve" style="white-space:pre">
<text x="86.4" y="695.8" xml:space="preserve">DVA 交易次数: 4</text>
<text x="86.4" y="716.4" xml:space="preserve">策略总收益率: 61.43%</text>
<text x="86.4" y="736.0" xml:space="preserve">长期持有收益: 57.87%</text>
<text x="86.4" y="755.9" xml:space="preserve">交易记录:</text>
<text x="86.4" y="772.9" xml:space="preserve">  Buy Date  Buy Price  Sell Date  Sell Price  Holding Days  Profit %</text>
<text x="86.4" y="789.4" xml:space="preserve">2020-10-06      85.38 2020-12-11      108.28            66     26.82</text>
<text x="86.4" y="806.7" xml:space="preserve">2021-02-02     111.66 2024-04-09      134.13          1161     20.12</text>
<text x="86.4" y="824.5" xml:space="preserve">2024-04-17     127.67 2024-10-07      157.44           173     23.32</text>
<text x="86.4" y="841.5" xml:space="preserve">2024-10-25     156.86 2026-02-03      134.79           466    -14.07</text>
</g>
</svg></body></html>
